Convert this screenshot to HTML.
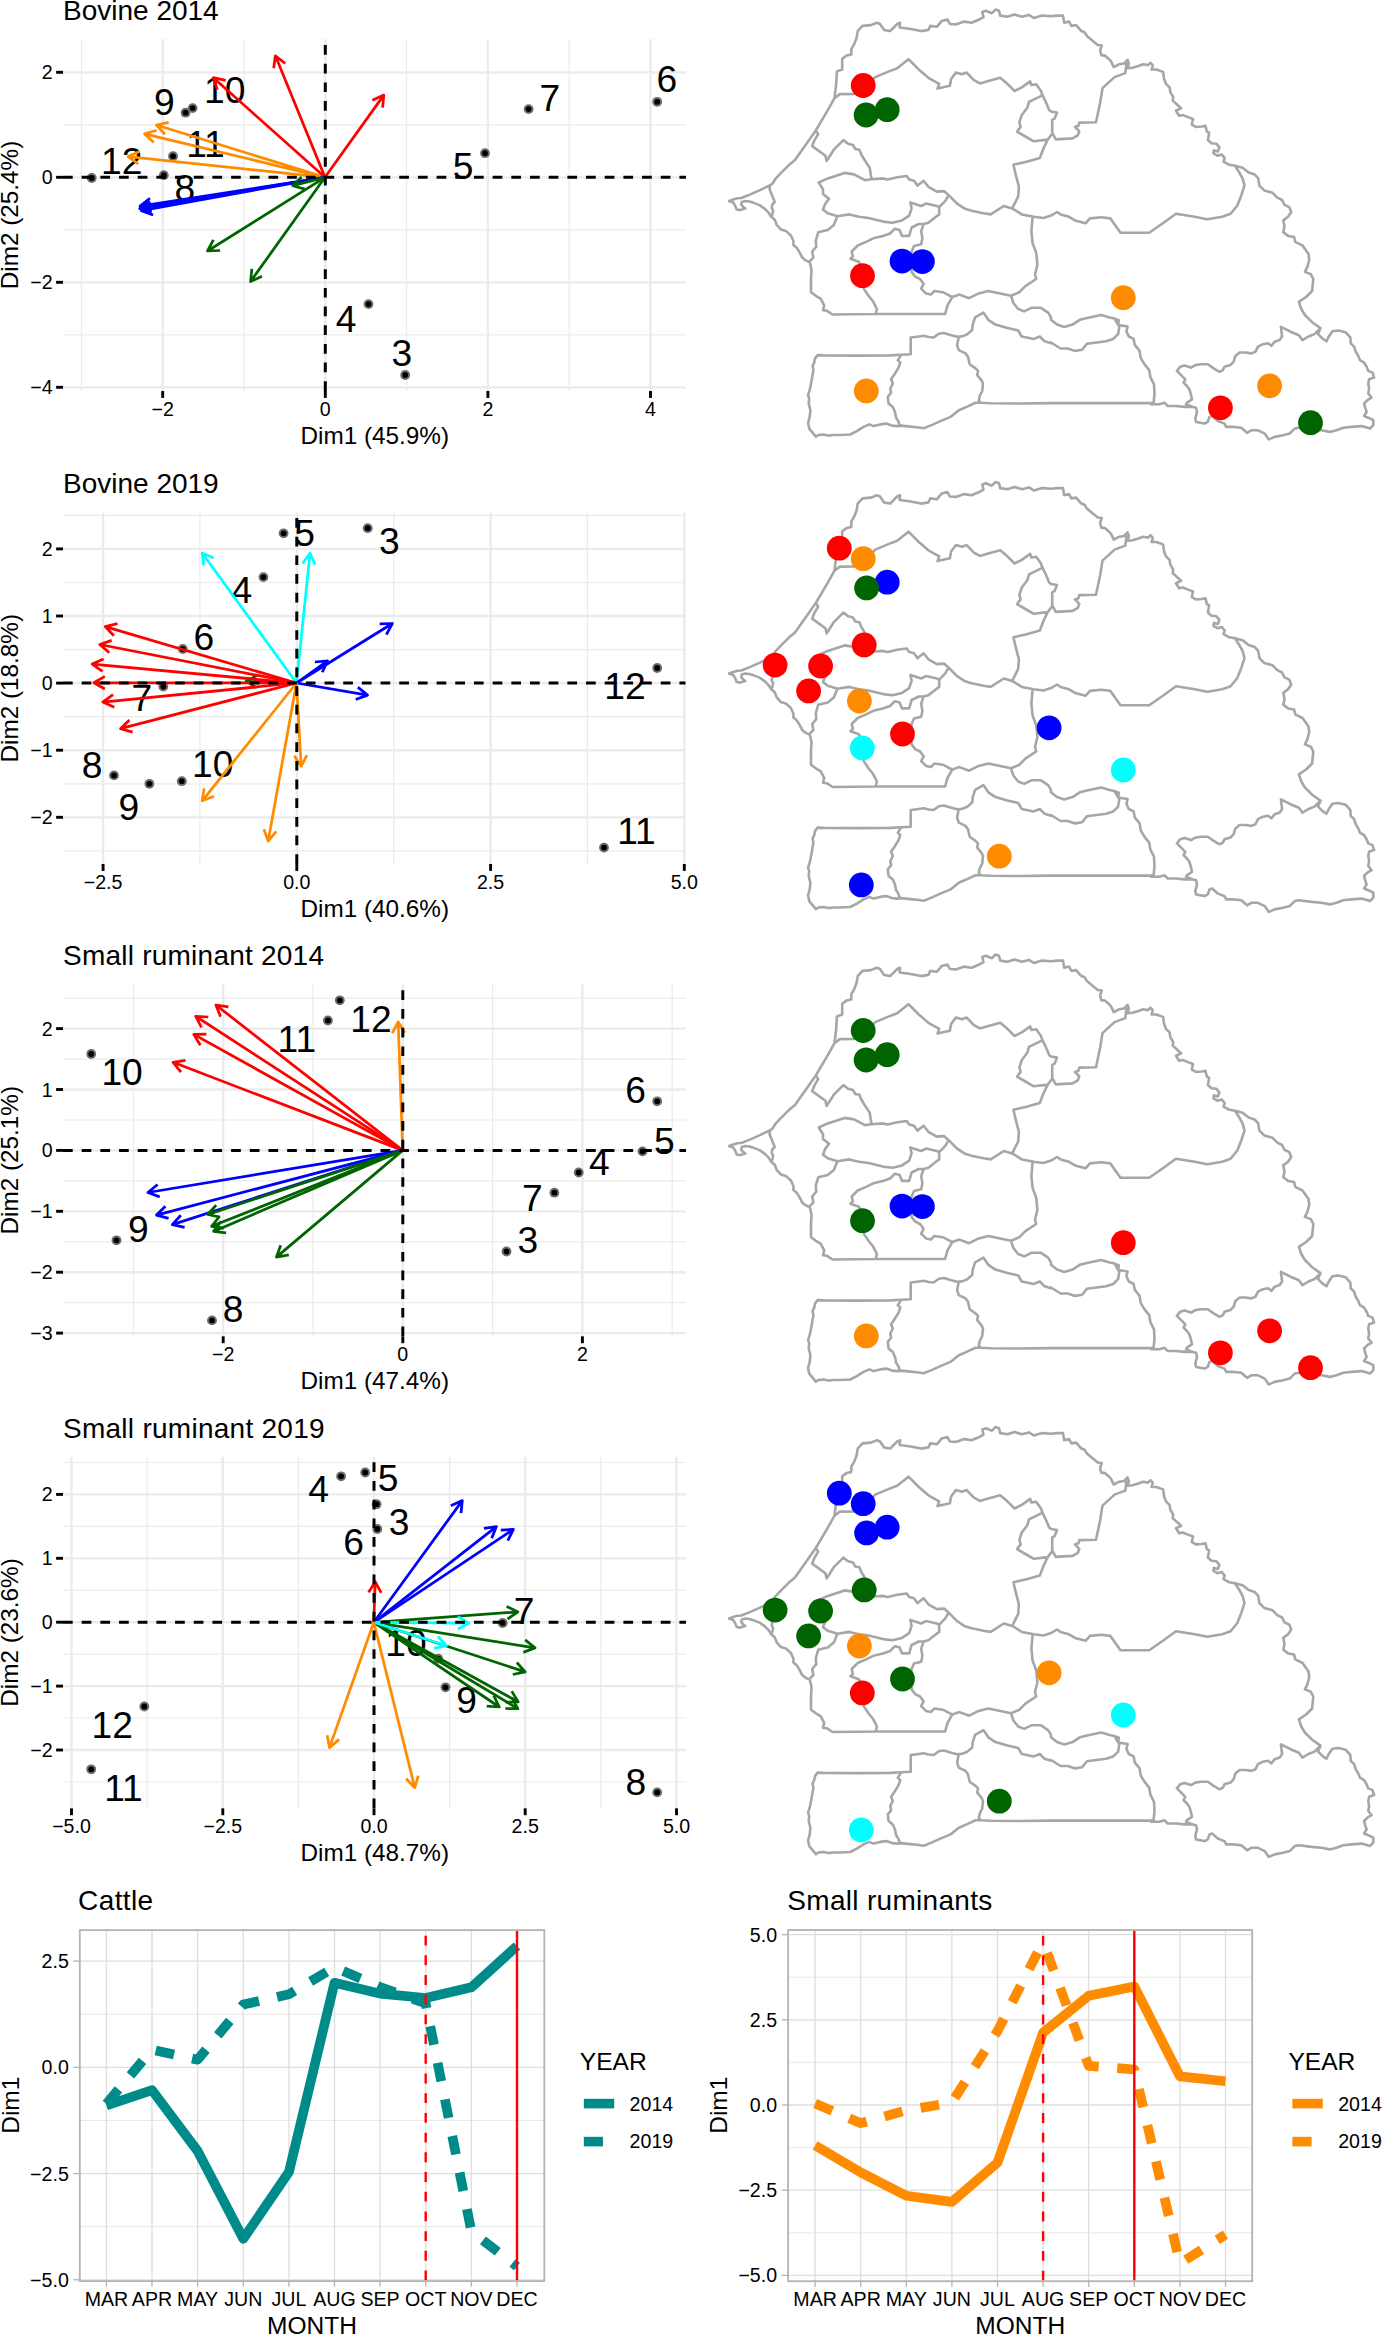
<!DOCTYPE html>
<html lang="en"><head><meta charset="utf-8"><title>PCA biplots, maps and seasonal Dim1</title>
<style>html,body{margin:0;padding:0;background:#fff}svg{display:block}text{font-family:"Liberation Sans", sans-serif;fill:#000}</style>
</head><body>
<svg width="1382" height="2335" viewBox="0 0 1382 2335">
<rect width="1382" height="2335" fill="#fff"/>
<g>
<text x="63.0" y="20.3" font-size="28.0" text-anchor="start">Bovine 2014</text>
<g stroke="#ebebeb"><line x1="81.4" x2="81.4" y1="39.0" y2="391.0" stroke-width="1.18"/><line x1="244.0" x2="244.0" y1="39.0" y2="391.0" stroke-width="1.18"/><line x1="406.6" x2="406.6" y1="39.0" y2="391.0" stroke-width="1.18"/><line x1="569.2" x2="569.2" y1="39.0" y2="391.0" stroke-width="1.18"/><line x1="63.0" x2="686.0" y1="124.8" y2="124.8" stroke-width="1.18"/><line x1="63.0" x2="686.0" y1="229.8" y2="229.8" stroke-width="1.18"/><line x1="63.0" x2="686.0" y1="334.8" y2="334.8" stroke-width="1.18"/><line x1="162.7" x2="162.7" y1="39.0" y2="391.0" stroke-width="2.35"/><line x1="325.3" x2="325.3" y1="39.0" y2="391.0" stroke-width="2.35"/><line x1="487.9" x2="487.9" y1="39.0" y2="391.0" stroke-width="2.35"/><line x1="650.5" x2="650.5" y1="39.0" y2="391.0" stroke-width="2.35"/><line x1="63.0" x2="686.0" y1="72.3" y2="72.3" stroke-width="2.35"/><line x1="63.0" x2="686.0" y1="177.3" y2="177.3" stroke-width="2.35"/><line x1="63.0" x2="686.0" y1="282.3" y2="282.3" stroke-width="2.35"/><line x1="63.0" x2="686.0" y1="387.3" y2="387.3" stroke-width="2.35"/></g>
<g stroke="#000" stroke-width="2.90"><line x1="162.7" x2="162.7" y1="391.0" y2="397.9"/><line x1="325.3" x2="325.3" y1="391.0" y2="397.9"/><line x1="487.9" x2="487.9" y1="391.0" y2="397.9"/><line x1="650.5" x2="650.5" y1="391.0" y2="397.9"/><line x1="56.1" x2="63.0" y1="72.3" y2="72.3"/><line x1="56.1" x2="63.0" y1="177.3" y2="177.3"/><line x1="56.1" x2="63.0" y1="282.3" y2="282.3"/><line x1="56.1" x2="63.0" y1="387.3" y2="387.3"/></g>
<text x="162.7" y="416.0" font-size="19.6" text-anchor="middle">−2</text>
<text x="325.3" y="416.0" font-size="19.6" text-anchor="middle">0</text>
<text x="487.9" y="416.0" font-size="19.6" text-anchor="middle">2</text>
<text x="650.5" y="416.0" font-size="19.6" text-anchor="middle">4</text>
<text x="52.6" y="79.3" font-size="19.6" text-anchor="end">2</text>
<text x="52.6" y="184.3" font-size="19.6" text-anchor="end">0</text>
<text x="52.6" y="289.3" font-size="19.6" text-anchor="end">−2</text>
<text x="52.6" y="394.3" font-size="19.6" text-anchor="end">−4</text>
<text x="374.8" y="443.8" font-size="24.3" text-anchor="middle">Dim1 (45.9%)</text>
<text x="18.3" y="215.0" font-size="24.3" text-anchor="middle" transform="rotate(-90 18.3 215.0)">Dim2 (25.4%)</text>
<g><circle cx="91.7" cy="178.0" r="4.9" fill="#6b6b6b"/><circle cx="91.7" cy="178.0" r="2.9" fill="#000"/><circle cx="163.8" cy="175.2" r="4.9" fill="#6b6b6b"/><circle cx="163.8" cy="175.2" r="2.9" fill="#000"/><circle cx="173.0" cy="156.2" r="4.9" fill="#6b6b6b"/><circle cx="173.0" cy="156.2" r="2.9" fill="#000"/><circle cx="185.6" cy="112.7" r="4.9" fill="#6b6b6b"/><circle cx="185.6" cy="112.7" r="2.9" fill="#000"/><circle cx="192.6" cy="108.1" r="4.9" fill="#6b6b6b"/><circle cx="192.6" cy="108.1" r="2.9" fill="#000"/><circle cx="485.0" cy="153.2" r="4.9" fill="#6b6b6b"/><circle cx="485.0" cy="153.2" r="2.9" fill="#000"/><circle cx="528.6" cy="109.1" r="4.9" fill="#6b6b6b"/><circle cx="528.6" cy="109.1" r="2.9" fill="#000"/><circle cx="657.2" cy="101.8" r="4.9" fill="#6b6b6b"/><circle cx="657.2" cy="101.8" r="2.9" fill="#000"/><circle cx="368.5" cy="304.1" r="4.9" fill="#6b6b6b"/><circle cx="368.5" cy="304.1" r="2.9" fill="#000"/><circle cx="405.2" cy="375.0" r="4.9" fill="#6b6b6b"/><circle cx="405.2" cy="375.0" r="2.9" fill="#000"/></g>
<text x="164.4" y="114.5" font-size="37.2" text-anchor="middle">9</text>
<text x="224.7" y="103.2" font-size="37.2" text-anchor="middle">10</text>
<text x="205.5" y="157.0" font-size="37.2" text-anchor="middle">11</text>
<text x="121.7" y="174.1" font-size="37.2" text-anchor="middle">12</text>
<text x="184.9" y="200.7" font-size="37.2" text-anchor="middle">8</text>
<text x="463.2" y="179.2" font-size="37.2" text-anchor="middle">5</text>
<text x="549.8" y="110.6" font-size="37.2" text-anchor="middle">7</text>
<text x="666.8" y="91.8" font-size="37.2" text-anchor="middle">6</text>
<text x="346.0" y="331.6" font-size="37.2" text-anchor="middle">4</text>
<text x="401.9" y="366.1" font-size="37.2" text-anchor="middle">3</text>
<path d="M325.0,177.3 L156.4,125.0 M165.0,134.3 L156.4,125.0 L168.7,122.3" stroke="#ff8c00" stroke-width="2.75" fill="none" stroke-linejoin="round" stroke-linecap="butt"/>
<path d="M325.0,177.3 L144.6,133.9 M153.7,142.5 L144.6,133.9 L156.6,130.3" stroke="#ff8c00" stroke-width="2.75" fill="none" stroke-linejoin="round" stroke-linecap="butt"/>
<path d="M325.0,177.3 L128.1,156.6 M138.3,164.0 L128.1,156.6 L139.6,151.4" stroke="#ff8c00" stroke-width="2.75" fill="none" stroke-linejoin="round" stroke-linecap="butt"/>
<path d="M325.0,177.3 L275.4,55.8 M273.7,68.3 L275.4,55.8 L285.3,63.5" stroke="#ff0000" stroke-width="2.75" fill="none" stroke-linejoin="round" stroke-linecap="butt"/>
<path d="M325.0,177.3 L213.3,77.7 M217.3,89.7 L213.3,77.7 L225.7,80.3" stroke="#ff0000" stroke-width="2.75" fill="none" stroke-linejoin="round" stroke-linecap="butt"/>
<path d="M325.0,177.3 L383.8,95.1 M372.4,100.3 L383.8,95.1 L382.6,107.7" stroke="#ff0000" stroke-width="2.75" fill="none" stroke-linejoin="round" stroke-linecap="butt"/>
<path d="M325.0,177.3 L140.1,206.1 M151.8,210.6 L140.1,206.1 L149.9,198.2" stroke="#0000ff" stroke-width="2.75" fill="none" stroke-linejoin="round" stroke-linecap="butt"/>
<path d="M325.0,177.3 L139.7,208.5 M151.5,212.9 L139.7,208.5 L149.4,200.4" stroke="#0000ff" stroke-width="2.75" fill="none" stroke-linejoin="round" stroke-linecap="butt"/>
<path d="M325.0,177.3 L141.3,210.7 M153.1,215.0 L141.3,210.7 L150.9,202.6" stroke="#0000ff" stroke-width="2.75" fill="none" stroke-linejoin="round" stroke-linecap="butt"/>
<path d="M325.0,177.3 L292.7,185.7 M304.8,189.1 L292.7,185.7 L301.6,176.9" stroke="#006400" stroke-width="2.75" fill="none" stroke-linejoin="round" stroke-linecap="butt"/>
<path d="M325.0,177.3 L207.5,251.0 M220.1,250.5 L207.5,251.0 L213.4,239.9" stroke="#006400" stroke-width="2.75" fill="none" stroke-linejoin="round" stroke-linecap="butt"/>
<path d="M325.0,177.3 L250.6,281.5 M262.0,276.3 L250.6,281.5 L251.8,268.9" stroke="#006400" stroke-width="2.75" fill="none" stroke-linejoin="round" stroke-linecap="butt"/>
<path d="M63.0,177.3 H686.0 M325.3,391.0 V39.0" stroke="#000" stroke-width="3.00" stroke-dasharray="9.70 8.98" fill="none"/>
</g>
<g>
<text x="63.0" y="493.3" font-size="28.0" text-anchor="start">Bovine 2019</text>
<g stroke="#ebebeb"><line x1="199.9" x2="199.9" y1="512.5" y2="864.0" stroke-width="1.18"/><line x1="393.7" x2="393.7" y1="512.5" y2="864.0" stroke-width="1.18"/><line x1="587.4" x2="587.4" y1="512.5" y2="864.0" stroke-width="1.18"/><line x1="63.0" x2="685.5" y1="515.4" y2="515.4" stroke-width="1.18"/><line x1="63.0" x2="685.5" y1="582.5" y2="582.5" stroke-width="1.18"/><line x1="63.0" x2="685.5" y1="649.6" y2="649.6" stroke-width="1.18"/><line x1="63.0" x2="685.5" y1="716.6" y2="716.6" stroke-width="1.18"/><line x1="63.0" x2="685.5" y1="783.8" y2="783.8" stroke-width="1.18"/><line x1="63.0" x2="685.5" y1="850.9" y2="850.9" stroke-width="1.18"/><line x1="103.1" x2="103.1" y1="512.5" y2="864.0" stroke-width="2.35"/><line x1="296.8" x2="296.8" y1="512.5" y2="864.0" stroke-width="2.35"/><line x1="490.6" x2="490.6" y1="512.5" y2="864.0" stroke-width="2.35"/><line x1="684.3" x2="684.3" y1="512.5" y2="864.0" stroke-width="2.35"/><line x1="63.0" x2="685.5" y1="548.9" y2="548.9" stroke-width="2.35"/><line x1="63.0" x2="685.5" y1="616.0" y2="616.0" stroke-width="2.35"/><line x1="63.0" x2="685.5" y1="683.1" y2="683.1" stroke-width="2.35"/><line x1="63.0" x2="685.5" y1="750.2" y2="750.2" stroke-width="2.35"/><line x1="63.0" x2="685.5" y1="817.3" y2="817.3" stroke-width="2.35"/></g>
<g stroke="#000" stroke-width="2.90"><line x1="103.1" x2="103.1" y1="864.0" y2="870.9"/><line x1="296.8" x2="296.8" y1="864.0" y2="870.9"/><line x1="490.6" x2="490.6" y1="864.0" y2="870.9"/><line x1="684.3" x2="684.3" y1="864.0" y2="870.9"/><line x1="56.1" x2="63.0" y1="548.9" y2="548.9"/><line x1="56.1" x2="63.0" y1="616.0" y2="616.0"/><line x1="56.1" x2="63.0" y1="683.1" y2="683.1"/><line x1="56.1" x2="63.0" y1="750.2" y2="750.2"/><line x1="56.1" x2="63.0" y1="817.3" y2="817.3"/></g>
<text x="103.1" y="889.0" font-size="19.6" text-anchor="middle">−2.5</text>
<text x="296.8" y="889.0" font-size="19.6" text-anchor="middle">0.0</text>
<text x="490.6" y="889.0" font-size="19.6" text-anchor="middle">2.5</text>
<text x="684.3" y="889.0" font-size="19.6" text-anchor="middle">5.0</text>
<text x="52.6" y="555.9" font-size="19.6" text-anchor="end">2</text>
<text x="52.6" y="623.0" font-size="19.6" text-anchor="end">1</text>
<text x="52.6" y="690.1" font-size="19.6" text-anchor="end">0</text>
<text x="52.6" y="757.2" font-size="19.6" text-anchor="end">−1</text>
<text x="52.6" y="824.3" font-size="19.6" text-anchor="end">−2</text>
<text x="374.8" y="916.8" font-size="24.3" text-anchor="middle">Dim1 (40.6%)</text>
<text x="18.3" y="688.2" font-size="24.3" text-anchor="middle" transform="rotate(-90 18.3 688.2)">Dim2 (18.8%)</text>
<g><circle cx="283.6" cy="533.3" r="4.9" fill="#6b6b6b"/><circle cx="283.6" cy="533.3" r="2.9" fill="#000"/><circle cx="263.4" cy="577.1" r="4.9" fill="#6b6b6b"/><circle cx="263.4" cy="577.1" r="2.9" fill="#000"/><circle cx="182.8" cy="649.0" r="4.9" fill="#6b6b6b"/><circle cx="182.8" cy="649.0" r="2.9" fill="#000"/><circle cx="163.3" cy="686.5" r="4.9" fill="#6b6b6b"/><circle cx="163.3" cy="686.5" r="2.9" fill="#000"/><circle cx="367.7" cy="528.2" r="4.9" fill="#6b6b6b"/><circle cx="367.7" cy="528.2" r="2.9" fill="#000"/><circle cx="657.2" cy="668.0" r="4.9" fill="#6b6b6b"/><circle cx="657.2" cy="668.0" r="2.9" fill="#000"/><circle cx="114.0" cy="775.4" r="4.9" fill="#6b6b6b"/><circle cx="114.0" cy="775.4" r="2.9" fill="#000"/><circle cx="149.4" cy="783.8" r="4.9" fill="#6b6b6b"/><circle cx="149.4" cy="783.8" r="2.9" fill="#000"/><circle cx="181.8" cy="781.2" r="4.9" fill="#6b6b6b"/><circle cx="181.8" cy="781.2" r="2.9" fill="#000"/><circle cx="604.0" cy="847.6" r="4.9" fill="#6b6b6b"/><circle cx="604.0" cy="847.6" r="2.9" fill="#000"/></g>
<text x="304.5" y="545.8" font-size="37.2" text-anchor="middle">5</text>
<text x="241.8" y="603.1" font-size="37.2" text-anchor="middle">4</text>
<text x="203.8" y="650.4" font-size="37.2" text-anchor="middle">6</text>
<text x="141.8" y="711.3" font-size="37.2" text-anchor="middle">7</text>
<text x="389.3" y="553.7" font-size="37.2" text-anchor="middle">3</text>
<text x="624.9" y="698.9" font-size="37.2" text-anchor="middle">12</text>
<text x="92.2" y="777.8" font-size="37.2" text-anchor="middle">8</text>
<text x="128.8" y="819.6" font-size="37.2" text-anchor="middle">9</text>
<text x="212.7" y="777.3" font-size="37.2" text-anchor="middle">10</text>
<text x="636.5" y="843.6" font-size="37.2" text-anchor="middle">11</text>
<path d="M296.5,683.0 L202.2,553.0 M203.5,565.5 L202.2,553.0 L213.7,558.1" stroke="#00ffff" stroke-width="2.75" fill="none" stroke-linejoin="round" stroke-linecap="butt"/>
<path d="M296.5,683.0 L310.0,553.3 M302.6,563.5 L310.0,553.3 L315.2,564.8" stroke="#00ffff" stroke-width="2.75" fill="none" stroke-linejoin="round" stroke-linecap="butt"/>
<path d="M296.5,683.0 L246.1,681.2 M256.8,687.8 L246.1,681.2 L257.2,675.3" stroke="#006400" stroke-width="2.75" fill="none" stroke-linejoin="round" stroke-linecap="butt"/>
<path d="M296.5,683.0 L105.2,626.6 M113.9,635.8 L105.2,626.6 L117.5,623.7" stroke="#ff0000" stroke-width="2.75" fill="none" stroke-linejoin="round" stroke-linecap="butt"/>
<path d="M296.5,683.0 L99.8,644.5 M109.3,652.8 L99.8,644.5 L111.7,640.4" stroke="#ff0000" stroke-width="2.75" fill="none" stroke-linejoin="round" stroke-linecap="butt"/>
<path d="M296.5,683.0 L92.2,664.1 M102.5,671.4 L92.2,664.1 L103.6,658.9" stroke="#ff0000" stroke-width="2.75" fill="none" stroke-linejoin="round" stroke-linecap="butt"/>
<path d="M296.5,683.0 L93.9,682.7 M104.8,689.0 L93.9,682.7 L104.8,676.4" stroke="#ff0000" stroke-width="2.75" fill="none" stroke-linejoin="round" stroke-linecap="butt"/>
<path d="M296.5,683.0 L102.8,702.1 M114.3,707.3 L102.8,702.1 L113.0,694.7" stroke="#ff0000" stroke-width="2.75" fill="none" stroke-linejoin="round" stroke-linecap="butt"/>
<path d="M296.5,683.0 L120.5,728.7 M132.6,732.1 L120.5,728.7 L129.4,719.9" stroke="#ff0000" stroke-width="2.75" fill="none" stroke-linejoin="round" stroke-linecap="butt"/>
<path d="M296.5,683.0 L327.5,660.8 M314.9,662.0 L327.5,660.8 L322.3,672.3" stroke="#0000ff" stroke-width="2.75" fill="none" stroke-linejoin="round" stroke-linecap="butt"/>
<path d="M296.5,683.0 L392.3,623.5 M379.7,623.9 L392.3,623.5 L386.4,634.6" stroke="#0000ff" stroke-width="2.75" fill="none" stroke-linejoin="round" stroke-linecap="butt"/>
<path d="M296.5,683.0 L367.5,695.1 M357.8,687.1 L367.5,695.1 L355.7,699.5" stroke="#0000ff" stroke-width="2.75" fill="none" stroke-linejoin="round" stroke-linecap="butt"/>
<path d="M296.5,683.0 L202.2,800.8 M214.0,796.2 L202.2,800.8 L204.1,788.4" stroke="#ff8c00" stroke-width="2.75" fill="none" stroke-linejoin="round" stroke-linecap="butt"/>
<path d="M296.5,683.0 L268.2,841.0 M276.3,831.4 L268.2,841.0 L263.9,829.2" stroke="#ff8c00" stroke-width="2.75" fill="none" stroke-linejoin="round" stroke-linecap="butt"/>
<path d="M296.5,683.0 L301.2,766.3 M306.9,755.1 L301.2,766.3 L294.3,755.8" stroke="#ff8c00" stroke-width="2.75" fill="none" stroke-linejoin="round" stroke-linecap="butt"/>
<path d="M63.0,683.1 H685.5 M296.8,864.0 V512.5" stroke="#000" stroke-width="3.00" stroke-dasharray="9.70 8.98" fill="none"/>
</g>
<g>
<text x="63.0" y="965.3" font-size="28.0" text-anchor="start" textLength="261" lengthAdjust="spacing">Small ruminant 2014</text>
<g stroke="#ebebeb"><line x1="133.4" x2="133.4" y1="984.3" y2="1336.3" stroke-width="1.18"/><line x1="313.0" x2="313.0" y1="984.3" y2="1336.3" stroke-width="1.18"/><line x1="492.6" x2="492.6" y1="984.3" y2="1336.3" stroke-width="1.18"/><line x1="672.2" x2="672.2" y1="984.3" y2="1336.3" stroke-width="1.18"/><line x1="63.0" x2="686.0" y1="998.2" y2="998.2" stroke-width="1.18"/><line x1="63.0" x2="686.0" y1="1059.1" y2="1059.1" stroke-width="1.18"/><line x1="63.0" x2="686.0" y1="1120.0" y2="1120.0" stroke-width="1.18"/><line x1="63.0" x2="686.0" y1="1180.9" y2="1180.9" stroke-width="1.18"/><line x1="63.0" x2="686.0" y1="1241.8" y2="1241.8" stroke-width="1.18"/><line x1="63.0" x2="686.0" y1="1302.7" y2="1302.7" stroke-width="1.18"/><line x1="223.2" x2="223.2" y1="984.3" y2="1336.3" stroke-width="2.35"/><line x1="402.8" x2="402.8" y1="984.3" y2="1336.3" stroke-width="2.35"/><line x1="582.4" x2="582.4" y1="984.3" y2="1336.3" stroke-width="2.35"/><line x1="63.0" x2="686.0" y1="1028.6" y2="1028.6" stroke-width="2.35"/><line x1="63.0" x2="686.0" y1="1089.5" y2="1089.5" stroke-width="2.35"/><line x1="63.0" x2="686.0" y1="1150.4" y2="1150.4" stroke-width="2.35"/><line x1="63.0" x2="686.0" y1="1211.3" y2="1211.3" stroke-width="2.35"/><line x1="63.0" x2="686.0" y1="1272.2" y2="1272.2" stroke-width="2.35"/><line x1="63.0" x2="686.0" y1="1333.1" y2="1333.1" stroke-width="2.35"/></g>
<g stroke="#000" stroke-width="2.90"><line x1="223.2" x2="223.2" y1="1336.3" y2="1343.2"/><line x1="402.8" x2="402.8" y1="1336.3" y2="1343.2"/><line x1="582.4" x2="582.4" y1="1336.3" y2="1343.2"/><line x1="56.1" x2="63.0" y1="1028.6" y2="1028.6"/><line x1="56.1" x2="63.0" y1="1089.5" y2="1089.5"/><line x1="56.1" x2="63.0" y1="1150.4" y2="1150.4"/><line x1="56.1" x2="63.0" y1="1211.3" y2="1211.3"/><line x1="56.1" x2="63.0" y1="1272.2" y2="1272.2"/><line x1="56.1" x2="63.0" y1="1333.1" y2="1333.1"/></g>
<text x="223.2" y="1361.3" font-size="19.6" text-anchor="middle">−2</text>
<text x="402.8" y="1361.3" font-size="19.6" text-anchor="middle">0</text>
<text x="582.4" y="1361.3" font-size="19.6" text-anchor="middle">2</text>
<text x="52.6" y="1035.6" font-size="19.6" text-anchor="end">2</text>
<text x="52.6" y="1096.5" font-size="19.6" text-anchor="end">1</text>
<text x="52.6" y="1157.4" font-size="19.6" text-anchor="end">0</text>
<text x="52.6" y="1218.3" font-size="19.6" text-anchor="end">−1</text>
<text x="52.6" y="1279.2" font-size="19.6" text-anchor="end">−2</text>
<text x="52.6" y="1340.1" font-size="19.6" text-anchor="end">−3</text>
<text x="374.8" y="1389.1" font-size="24.3" text-anchor="middle">Dim1 (47.4%)</text>
<text x="18.3" y="1160.3" font-size="24.3" text-anchor="middle" transform="rotate(-90 18.3 1160.3)">Dim2 (25.1%)</text>
<g><circle cx="91.2" cy="1054.0" r="4.9" fill="#6b6b6b"/><circle cx="91.2" cy="1054.0" r="2.9" fill="#000"/><circle cx="327.9" cy="1020.5" r="4.9" fill="#6b6b6b"/><circle cx="327.9" cy="1020.5" r="2.9" fill="#000"/><circle cx="339.8" cy="1000.3" r="4.9" fill="#6b6b6b"/><circle cx="339.8" cy="1000.3" r="2.9" fill="#000"/><circle cx="657.2" cy="1101.3" r="4.9" fill="#6b6b6b"/><circle cx="657.2" cy="1101.3" r="2.9" fill="#000"/><circle cx="642.5" cy="1151.4" r="4.9" fill="#6b6b6b"/><circle cx="642.5" cy="1151.4" r="2.9" fill="#000"/><circle cx="578.7" cy="1172.5" r="4.9" fill="#6b6b6b"/><circle cx="578.7" cy="1172.5" r="2.9" fill="#000"/><circle cx="554.4" cy="1192.7" r="4.9" fill="#6b6b6b"/><circle cx="554.4" cy="1192.7" r="2.9" fill="#000"/><circle cx="506.5" cy="1251.5" r="4.9" fill="#6b6b6b"/><circle cx="506.5" cy="1251.5" r="2.9" fill="#000"/><circle cx="116.5" cy="1240.3" r="4.9" fill="#6b6b6b"/><circle cx="116.5" cy="1240.3" r="2.9" fill="#000"/><circle cx="212.0" cy="1320.4" r="4.9" fill="#6b6b6b"/><circle cx="212.0" cy="1320.4" r="2.9" fill="#000"/></g>
<text x="122.1" y="1085.2" font-size="37.2" text-anchor="middle">10</text>
<text x="296.9" y="1052.1" font-size="37.2" text-anchor="middle">11</text>
<text x="370.9" y="1032.3" font-size="37.2" text-anchor="middle">12</text>
<text x="635.5" y="1103.0" font-size="37.2" text-anchor="middle">6</text>
<text x="664.4" y="1153.6" font-size="37.2" text-anchor="middle">5</text>
<text x="599.4" y="1175.0" font-size="37.2" text-anchor="middle">4</text>
<text x="532.3" y="1211.3" font-size="37.2" text-anchor="middle">7</text>
<text x="527.9" y="1253.1" font-size="37.2" text-anchor="middle">3</text>
<text x="138.4" y="1241.7" font-size="37.2" text-anchor="middle">9</text>
<text x="233.2" y="1321.6" font-size="37.2" text-anchor="middle">8</text>
<path d="M402.7,1150.4 L215.9,1005.0 M220.6,1016.7 L215.9,1005.0 L228.4,1006.8" stroke="#ff0000" stroke-width="2.75" fill="none" stroke-linejoin="round" stroke-linecap="butt"/>
<path d="M402.7,1150.4 L195.8,1016.3 M201.5,1027.5 L195.8,1016.3 L208.3,1017.0" stroke="#ff0000" stroke-width="2.75" fill="none" stroke-linejoin="round" stroke-linecap="butt"/>
<path d="M402.7,1150.4 L193.8,1034.4 M200.3,1045.2 L193.8,1034.4 L206.4,1034.2" stroke="#ff0000" stroke-width="2.75" fill="none" stroke-linejoin="round" stroke-linecap="butt"/>
<path d="M402.7,1150.4 L173.1,1062.3 M181.0,1072.1 L173.1,1062.3 L185.5,1060.4" stroke="#ff0000" stroke-width="2.75" fill="none" stroke-linejoin="round" stroke-linecap="butt"/>
<path d="M402.7,1150.4 L398.2,1022.0 M392.2,1033.1 L398.2,1022.0 L404.8,1032.7" stroke="#ff8c00" stroke-width="2.75" fill="none" stroke-linejoin="round" stroke-linecap="butt"/>
<path d="M402.7,1150.4 L147.9,1192.5 M159.7,1196.9 L147.9,1192.5 L157.6,1184.5" stroke="#0000ff" stroke-width="2.75" fill="none" stroke-linejoin="round" stroke-linecap="butt"/>
<path d="M402.7,1150.4 L156.5,1215.1 M168.6,1218.4 L156.5,1215.1 L165.4,1206.3" stroke="#0000ff" stroke-width="2.75" fill="none" stroke-linejoin="round" stroke-linecap="butt"/>
<path d="M402.7,1150.4 L172.3,1224.6 M184.6,1227.3 L172.3,1224.6 L180.8,1215.3" stroke="#0000ff" stroke-width="2.75" fill="none" stroke-linejoin="round" stroke-linecap="butt"/>
<path d="M402.7,1150.4 L207.8,1214.5 M220.2,1217.1 L207.8,1214.5 L216.2,1205.1" stroke="#006400" stroke-width="2.75" fill="none" stroke-linejoin="round" stroke-linecap="butt"/>
<path d="M402.7,1150.4 L211.6,1226.3 M224.1,1228.2 L211.6,1226.3 L219.4,1216.5" stroke="#006400" stroke-width="2.75" fill="none" stroke-linejoin="round" stroke-linecap="butt"/>
<path d="M402.7,1150.4 L213.6,1231.4 M226.1,1232.9 L213.6,1231.4 L221.1,1221.3" stroke="#006400" stroke-width="2.75" fill="none" stroke-linejoin="round" stroke-linecap="butt"/>
<path d="M402.7,1150.4 L276.4,1257.1 M288.8,1254.9 L276.4,1257.1 L280.7,1245.3" stroke="#006400" stroke-width="2.75" fill="none" stroke-linejoin="round" stroke-linecap="butt"/>
<path d="M63.0,1150.4 H686.0 M402.8,1336.3 V984.3" stroke="#000" stroke-width="3.00" stroke-dasharray="9.70 8.98" fill="none"/>
</g>
<g>
<text x="63.0" y="1437.9" font-size="28.0" text-anchor="start" textLength="261.6" lengthAdjust="spacing">Small ruminant 2019</text>
<g stroke="#ebebeb"><line x1="147.1" x2="147.1" y1="1456.8" y2="1808.3" stroke-width="1.18"/><line x1="298.4" x2="298.4" y1="1456.8" y2="1808.3" stroke-width="1.18"/><line x1="449.6" x2="449.6" y1="1456.8" y2="1808.3" stroke-width="1.18"/><line x1="600.9" x2="600.9" y1="1456.8" y2="1808.3" stroke-width="1.18"/><line x1="63.0" x2="686.0" y1="1462.5" y2="1462.5" stroke-width="1.18"/><line x1="63.0" x2="686.0" y1="1526.4" y2="1526.4" stroke-width="1.18"/><line x1="63.0" x2="686.0" y1="1590.2" y2="1590.2" stroke-width="1.18"/><line x1="63.0" x2="686.0" y1="1654.2" y2="1654.2" stroke-width="1.18"/><line x1="63.0" x2="686.0" y1="1718.0" y2="1718.0" stroke-width="1.18"/><line x1="63.0" x2="686.0" y1="1782.0" y2="1782.0" stroke-width="1.18"/><line x1="71.5" x2="71.5" y1="1456.8" y2="1808.3" stroke-width="2.35"/><line x1="222.8" x2="222.8" y1="1456.8" y2="1808.3" stroke-width="2.35"/><line x1="374.0" x2="374.0" y1="1456.8" y2="1808.3" stroke-width="2.35"/><line x1="525.2" x2="525.2" y1="1456.8" y2="1808.3" stroke-width="2.35"/><line x1="676.5" x2="676.5" y1="1456.8" y2="1808.3" stroke-width="2.35"/><line x1="63.0" x2="686.0" y1="1494.4" y2="1494.4" stroke-width="2.35"/><line x1="63.0" x2="686.0" y1="1558.3" y2="1558.3" stroke-width="2.35"/><line x1="63.0" x2="686.0" y1="1622.2" y2="1622.2" stroke-width="2.35"/><line x1="63.0" x2="686.0" y1="1686.1" y2="1686.1" stroke-width="2.35"/><line x1="63.0" x2="686.0" y1="1750.0" y2="1750.0" stroke-width="2.35"/></g>
<g stroke="#000" stroke-width="2.90"><line x1="71.5" x2="71.5" y1="1808.3" y2="1815.2"/><line x1="222.8" x2="222.8" y1="1808.3" y2="1815.2"/><line x1="374.0" x2="374.0" y1="1808.3" y2="1815.2"/><line x1="525.2" x2="525.2" y1="1808.3" y2="1815.2"/><line x1="676.5" x2="676.5" y1="1808.3" y2="1815.2"/><line x1="56.1" x2="63.0" y1="1494.4" y2="1494.4"/><line x1="56.1" x2="63.0" y1="1558.3" y2="1558.3"/><line x1="56.1" x2="63.0" y1="1622.2" y2="1622.2"/><line x1="56.1" x2="63.0" y1="1686.1" y2="1686.1"/><line x1="56.1" x2="63.0" y1="1750.0" y2="1750.0"/></g>
<text x="71.5" y="1833.3" font-size="19.6" text-anchor="middle">−5.0</text>
<text x="222.8" y="1833.3" font-size="19.6" text-anchor="middle">−2.5</text>
<text x="374.0" y="1833.3" font-size="19.6" text-anchor="middle">0.0</text>
<text x="525.2" y="1833.3" font-size="19.6" text-anchor="middle">2.5</text>
<text x="676.5" y="1833.3" font-size="19.6" text-anchor="middle">5.0</text>
<text x="52.6" y="1501.4" font-size="19.6" text-anchor="end">2</text>
<text x="52.6" y="1565.3" font-size="19.6" text-anchor="end">1</text>
<text x="52.6" y="1629.2" font-size="19.6" text-anchor="end">0</text>
<text x="52.6" y="1693.1" font-size="19.6" text-anchor="end">−1</text>
<text x="52.6" y="1757.0" font-size="19.6" text-anchor="end">−2</text>
<text x="374.8" y="1861.1" font-size="24.3" text-anchor="middle">Dim1 (48.7%)</text>
<text x="18.3" y="1632.5" font-size="24.3" text-anchor="middle" transform="rotate(-90 18.3 1632.5)">Dim2 (23.6%)</text>
<g><circle cx="341.1" cy="1476.3" r="4.9" fill="#6b6b6b"/><circle cx="341.1" cy="1476.3" r="2.9" fill="#000"/><circle cx="365.2" cy="1472.5" r="4.9" fill="#6b6b6b"/><circle cx="365.2" cy="1472.5" r="2.9" fill="#000"/><circle cx="376.6" cy="1504.2" r="4.9" fill="#6b6b6b"/><circle cx="376.6" cy="1504.2" r="2.9" fill="#000"/><circle cx="377.3" cy="1529.0" r="4.9" fill="#6b6b6b"/><circle cx="377.3" cy="1529.0" r="2.9" fill="#000"/><circle cx="502.7" cy="1623.0" r="4.9" fill="#6b6b6b"/><circle cx="502.7" cy="1623.0" r="2.9" fill="#000"/><circle cx="438.2" cy="1658.7" r="4.9" fill="#6b6b6b"/><circle cx="438.2" cy="1658.7" r="2.9" fill="#000"/><circle cx="445.5" cy="1687.3" r="4.9" fill="#6b6b6b"/><circle cx="445.5" cy="1687.3" r="2.9" fill="#000"/><circle cx="657.2" cy="1792.4" r="4.9" fill="#6b6b6b"/><circle cx="657.2" cy="1792.4" r="2.9" fill="#000"/><circle cx="144.3" cy="1706.5" r="4.9" fill="#6b6b6b"/><circle cx="144.3" cy="1706.5" r="2.9" fill="#000"/><circle cx="91.2" cy="1769.3" r="4.9" fill="#6b6b6b"/><circle cx="91.2" cy="1769.3" r="2.9" fill="#000"/></g>
<text x="318.7" y="1502.1" font-size="37.2" text-anchor="middle">4</text>
<text x="388.0" y="1491.4" font-size="37.2" text-anchor="middle">5</text>
<text x="399.1" y="1534.5" font-size="37.2" text-anchor="middle">3</text>
<text x="353.5" y="1555.2" font-size="37.2" text-anchor="middle">6</text>
<text x="524.0" y="1623.8" font-size="37.2" text-anchor="middle">7</text>
<text x="405.9" y="1656.3" font-size="37.2" text-anchor="middle">10</text>
<text x="466.7" y="1713.0" font-size="37.2" text-anchor="middle">9</text>
<text x="635.8" y="1794.7" font-size="37.2" text-anchor="middle">8</text>
<text x="112.2" y="1738.3" font-size="37.2" text-anchor="middle">12</text>
<text x="123.5" y="1800.9" font-size="37.2" text-anchor="middle">11</text>
<path d="M373.8,1622.3 L462.3,1500.6 M450.8,1505.7 L462.3,1500.6 L461.0,1513.1" stroke="#0000ff" stroke-width="2.75" fill="none" stroke-linejoin="round" stroke-linecap="butt"/>
<path d="M373.8,1622.3 L496.4,1526.6 M483.9,1528.4 L496.4,1526.6 L491.7,1538.3" stroke="#0000ff" stroke-width="2.75" fill="none" stroke-linejoin="round" stroke-linecap="butt"/>
<path d="M373.8,1622.3 L513.4,1529.3 M500.8,1530.1 L513.4,1529.3 L507.8,1540.6" stroke="#0000ff" stroke-width="2.75" fill="none" stroke-linejoin="round" stroke-linecap="butt"/>
<path d="M373.8,1622.3 L375.2,1581.7 M368.6,1592.4 L375.2,1581.7 L381.2,1592.8" stroke="#ff0000" stroke-width="2.75" fill="none" stroke-linejoin="round" stroke-linecap="butt"/>
<path d="M373.8,1622.3 L517.9,1611.9 M506.6,1606.4 L517.9,1611.9 L507.5,1619.0" stroke="#006400" stroke-width="2.75" fill="none" stroke-linejoin="round" stroke-linecap="butt"/>
<path d="M373.8,1622.3 L535.0,1647.9 M525.2,1639.9 L535.0,1647.9 L523.3,1652.4" stroke="#006400" stroke-width="2.75" fill="none" stroke-linejoin="round" stroke-linecap="butt"/>
<path d="M373.8,1622.3 L525.2,1671.9 M516.8,1662.5 L525.2,1671.9 L512.8,1674.5" stroke="#006400" stroke-width="2.75" fill="none" stroke-linejoin="round" stroke-linecap="butt"/>
<path d="M373.8,1622.3 L518.2,1701.9 M511.7,1691.1 L518.2,1701.9 L505.6,1702.1" stroke="#006400" stroke-width="2.75" fill="none" stroke-linejoin="round" stroke-linecap="butt"/>
<path d="M373.8,1622.3 L517.9,1708.7 M511.8,1697.7 L517.9,1708.7 L505.3,1708.5" stroke="#006400" stroke-width="2.75" fill="none" stroke-linejoin="round" stroke-linecap="butt"/>
<path d="M373.8,1622.3 L499.3,1707.0 M493.7,1695.6 L499.3,1707.0 L486.7,1706.1" stroke="#006400" stroke-width="2.75" fill="none" stroke-linejoin="round" stroke-linecap="butt"/>
<path d="M373.8,1622.3 L468.8,1623.0 M457.9,1616.6 L468.8,1623.0 L457.8,1629.2" stroke="#00ffff" stroke-width="2.75" fill="none" stroke-linejoin="round" stroke-linecap="butt"/>
<path d="M373.8,1622.3 L446.4,1645.7 M437.9,1636.4 L446.4,1645.7 L434.1,1648.4" stroke="#00ffff" stroke-width="2.75" fill="none" stroke-linejoin="round" stroke-linecap="butt"/>
<path d="M373.8,1622.3 L329.5,1747.6 M339.1,1739.4 L329.5,1747.6 L327.2,1735.2" stroke="#ff8c00" stroke-width="2.75" fill="none" stroke-linejoin="round" stroke-linecap="butt"/>
<path d="M373.8,1622.3 L414.8,1787.7 M418.3,1775.6 L414.8,1787.7 L406.1,1778.7" stroke="#ff8c00" stroke-width="2.75" fill="none" stroke-linejoin="round" stroke-linecap="butt"/>
<path d="M63.0,1622.2 H686.0 M374.0,1808.3 V1456.8" stroke="#000" stroke-width="3.00" stroke-dasharray="9.70 8.98" fill="none"/>
</g>
<path d="M729.1,201.0 L733.2,199.5 L737.2,198.3 L741.3,198.0 L750.4,194.4 L760.5,189.9 L770.7,184.8 L772.7,183.3 L775.2,179.2 L780.8,173.2 L788.9,165.1 L795.0,160.0 L815.8,130.5 L827.8,110.2 L834.5,98.2 L836.2,83.8 L836.9,71.4 L842.2,69.5 L842.2,58.7 L846.5,55.6 L851.3,54.6 L851.3,49.1 L854.1,44.3 L856.5,38.3 L857.7,31.1 L862.5,25.9 L870.9,25.1 L876.9,22.8 L880.0,24.0 L884.1,29.9 L890.1,31.1 L897.2,24.0 L900.1,22.8 L899.6,27.5 L909.2,28.7 L921.2,31.1 L928.4,29.9 L930.3,25.9 L936.8,26.8 L941.6,21.1 L947.5,19.6 L949.9,24.0 L955.9,24.4 L964.3,21.6 L971.5,22.8 L979.9,19.2 L983.5,17.2 L982.3,12.0 L985.9,10.8 L991.9,13.2 L995.4,9.6 L999.0,10.8 L1000.2,15.6 L1007.4,16.8 L1014.6,14.4 L1021.8,16.8 L1029.0,14.9 L1033.8,18.0 L1042.2,15.6 L1051.0,16.3 L1057.0,15.6 L1063.0,15.6 L1064.2,22.8 L1069.0,21.6 L1071.4,25.9 L1076.1,25.1 L1080.9,30.7 L1084.5,32.3 L1086.9,35.9 L1094.1,41.9 L1097.7,45.0 L1101.8,45.5 L1100.1,50.3 L1101.3,55.1 L1104.9,55.6 L1108.5,58.7 L1110.9,61.1 L1113.8,67.1 L1119.3,64.2 L1124.1,63.5 L1127.6,59.9 L1128.8,63.5 L1127.6,68.3 L1132.4,67.8 L1138.4,65.9 L1143.2,64.2 L1148.0,65.1 L1150.4,62.8 L1152.8,65.1 L1151.6,69.5 L1156.4,69.5 L1163.1,71.9 L1164.1,79.0 L1166.0,83.8 L1169.6,87.4 L1170.3,92.2 L1173.2,97.0 L1172.7,100.6 L1176.7,104.2 L1181.1,108.3 L1176.0,110.7 L1179.1,115.7 L1182.7,115.0 L1188.7,117.4 L1193.0,119.0 L1191.8,124.6 L1195.9,126.9 L1201.9,126.5 L1205.5,125.7 L1206.7,131.3 L1209.1,132.9 L1207.9,140.1 L1211.5,143.2 L1216.3,143.7 L1219.4,147.3 L1217.9,151.4 L1213.9,150.4 L1213.4,153.3 L1217.5,155.7 L1221.8,154.5 L1224.7,158.1 L1223.5,161.7 L1229.4,164.8 L1235.0,165.7 L1242.6,167.7 L1248.6,172.5 L1254.6,174.4 L1258.2,178.4 L1259.4,185.6 L1264.2,190.4 L1272.6,192.8 L1277.3,197.6 L1282.1,200.0 L1284.5,204.8 L1289.3,207.2 L1291.2,212.0 L1288.1,216.8 L1283.3,220.4 L1284.5,226.3 L1283.3,232.3 L1288.1,235.9 L1294.1,237.1 L1295.3,241.9 L1302.5,245.5 L1308.5,253.9 L1309.2,259.9 L1307.3,267.1 L1304.9,271.9 L1310.9,274.3 L1313.3,279.0 L1312.1,291.0 L1306.1,297.0 L1298.9,301.8 L1301.3,309.0 L1304.9,315.0 L1312.1,322.2 L1320.5,328.1 L1318.1,334.1 L1322.9,338.9 L1326.4,341.3 L1328.8,336.5 L1332.4,331.3 L1338.4,330.5 L1345.6,332.2 L1350.4,337.7 L1350.7,343.3 L1354.1,346.7 L1355.7,351.7 L1358.3,355.9 L1359.9,360.1 L1364.1,362.6 L1366.6,366.7 L1368.3,370.9 L1372.5,372.6 L1374.1,377.6 L1369.1,379.3 L1368.3,383.5 L1369.1,388.5 L1368.3,393.5 L1371.6,397.7 L1367.4,400.2 L1364.1,403.5 L1364.9,406.9 L1366.6,411.9 L1364.1,416.0 L1368.3,417.7 L1373.3,420.2 L1373.3,425.2 L1370.0,428.6 L1361.6,426.1 L1351.6,426.9 L1343.2,427.7 L1336.5,430.3 L1329.8,431.9 L1321.5,430.3 L1311.5,429.4 L1298.9,427.7 L1294.7,428.6 L1289.7,433.6 L1283.0,435.3 L1274.7,436.9 L1268.8,439.4 L1264.7,433.6 L1258.0,430.3 L1251.3,430.3 L1247.1,432.8 L1241.3,427.7 L1232.9,426.9 L1226.2,426.9 L1224.5,423.6 L1217.9,421.1 L1212.0,416.0 L1209.5,416.9 L1207.8,421.9 L1204.5,423.6 L1196.1,421.9 L1195.3,418.6 L1197.0,411.9 L1196.1,407.7 L1192.8,406.9 L1184.4,406.9 L1176.1,406.0 L1167.7,406.0 L1164.4,402.7 L1159.4,404.3 L1151.0,404.3 L1153.5,403.1 L1098.9,403.1 L1051.0,403.1 L1021.0,403.5 L990.6,403.2 L980.5,402.7 L975.5,402.7 L967.2,406.6 L958.8,410.2 L950.5,416.9 L940.4,421.1 L932.1,424.9 L923.7,428.3 L917.0,427.3 L910.3,426.6 L901.1,425.6 L897.0,426.1 L892.0,425.6 L886.1,423.6 L880.3,424.4 L873.6,426.1 L869.4,424.4 L863.5,426.9 L856.9,431.1 L850.2,434.5 L840.1,435.0 L833.5,435.0 L828.4,435.6 L823.4,434.5 L818.4,435.0 L815.9,436.6 L813.4,433.6 L809.2,428.6 L808.1,422.8 L809.7,416.9 L810.4,410.2 L808.7,403.5 L809.2,398.5 L808.1,395.2 L809.7,390.2 L811.7,380.1 L813.4,370.1 L812.6,365.9 L814.2,362.6 L815.1,358.4 L817.6,355.1 L823.4,355.4 L856.9,355.6 L890.3,355.4 L901.1,354.7 L910.7,354.2 L910.7,337.5 L917.0,336.7 L923.7,335.8 L928.7,337.0 L933.7,337.5 L938.8,333.7 L943.8,333.0 L950.5,335.0 L957.1,336.7 L962.2,336.4 L967.2,334.2 L972.2,330.0 L972.7,324.6 L975.1,317.4 L983.5,312.6 L988.3,319.8 L995.4,324.6 L1007.4,328.1 L1018.2,330.5 L1021.8,336.5 L1033.8,338.9 L1039.8,336.5 L1044.6,341.3 L1051.0,343.2 L1051.0,342.5 L1060.6,348.5 L1067.8,348.5 L1075.0,350.9 L1082.1,349.7 L1086.9,343.7 L1096.5,342.5 L1106.1,341.3 L1113.3,338.9 L1118.1,334.1 L1119.3,326.9 L1114.5,318.6 L1109.7,317.4 L1101.3,315.0 L1089.3,317.4 L1079.7,319.8 L1072.6,324.6 L1064.2,326.9 L1057.0,324.6 L1051.0,319.8 L1051.0,317.4 L1048.1,312.6 L1041.0,307.8 L1031.4,307.8 L1024.2,311.4 L1018.2,309.0 L1013.4,303.0 L1011.0,295.8 L997.8,292.9 L988.3,291.0 L978.7,293.4 L969.1,298.2 L959.5,294.6 L952.3,297.0 L947.5,305.4 L945.1,314.0 L875.7,314.0 L832.6,314.5 L826.6,310.7 L823.0,310.2 L824.2,305.4 L820.6,298.7 L815.8,295.8 L811.0,292.2 L811.0,279.0 L811.5,269.5 L809.8,262.3 L805.0,259.9 L805.1,260.0 L802.1,257.3 L800.0,253.2 L797.0,248.1 L793.4,245.1 L793.4,241.0 L790.9,235.5 L785.8,230.9 L780.8,229.4 L776.7,224.8 L774.7,219.8 L770.7,216.2 L768.6,212.7 L764.6,208.6 L759.5,205.1 L754.4,203.1 L749.4,201.5 L745.3,201.0 L741.8,202.0 L741.3,204.6 L743.3,207.1 L745.3,208.6 L741.8,209.6 L739.2,210.1 L736.7,209.6 L735.2,205.6 L733.2,202.5 L729.1,201.0Z M834.5,98.2 L839.8,94.1 L854.1,93.9 L864.9,88.6 L875.2,77.1 L887.7,71.9 L897.2,68.3 L908.5,59.2 L918.8,69.5 L928.4,77.8 L939.2,83.8 L937.5,88.6 L949.9,85.7 L951.1,79.0 L955.9,72.6 L961.9,74.3 L966.7,72.6 L973.9,80.2 L979.9,83.4 L988.3,81.0 L1000.2,77.8 L1007.4,83.8 L1014.6,91.0 L1021.8,87.4 L1030.2,81.4 L1031.4,85.0 L1036.2,84.3 L1041.0,91.0 L1042.2,94.6 L1045.7,101.8 L1049.3,110.2 L1051.0,111.4 L1057.0,112.6 L1054.6,118.6 L1052.2,119.8 L1052.2,132.9 L1055.8,139.4 L1072.6,138.4 L1077.8,135.3 L1079.3,131.3 L1075.0,126.9 L1078.5,125.7 L1079.3,122.6 L1096.0,122.2 L1100.1,103.0 L1102.5,88.1 L1114.5,77.1 L1125.3,73.1 L1126.4,64.2 M1042.2,95.3 L1029.0,101.8 L1027.3,107.8 L1021.8,115.0 L1019.4,122.2 L1020.6,126.9 L1017.0,131.7 L1025.4,136.5 L1033.8,141.3 L1047.7,139.6 L1052.2,133.7 M1047.7,139.6 L1043.4,148.5 L1039.8,158.1 L1026.6,161.7 L1013.4,164.8 L1015.8,174.9 L1018.9,186.8 L1018.2,196.4 L1014.6,203.6 L1012.2,208.4 M815.8,130.5 L818.2,134.1 L814.6,140.1 L812.2,146.1 L825.4,155.7 L826.6,161.0 L833.8,149.7 L843.4,140.1 L848.1,143.7 L852.9,144.9 L855.3,149.0 L859.4,149.7 L861.3,154.5 L864.9,160.5 L869.7,167.7 L871.4,178.4 M818.7,182.5 L827.8,178.4 L844.6,172.9 L854.1,174.4 L864.9,180.1 L871.4,179.2 L882.9,178.4 L887.7,179.6 L897.2,177.2 L906.8,176.0 L909.2,179.6 L914.0,180.8 L917.6,185.6 L923.6,180.8 L928.4,186.8 L936.8,191.6 L944.0,191.1 L948.7,195.2 L945.1,201.2 L939.2,207.2 L936.8,206.0 L926.0,203.6 L921.2,206.0 L910.4,202.4 L911.6,208.4 L909.2,215.6 L902.0,220.4 L892.5,222.8 L882.9,221.6 L868.5,218.0 L858.9,216.8 L849.3,214.4 L837.4,216.3 L827.8,213.2 L823.0,209.6 L825.4,203.6 L829.0,198.8 L823.0,194.0 L823.0,189.2 L818.7,182.5 M948.7,195.2 L957.1,203.6 L964.3,208.4 L971.5,210.8 L983.5,213.2 L990.7,214.4 L1003.8,206.0 L1012.2,208.4 L1021.8,214.4 L1033.8,216.8 L1043.4,218.0 L1051.0,215.6 L1057.0,212.0 L1060.6,214.4 L1069.0,216.8 L1075.0,220.4 L1085.7,223.2 L1090.0,218.4 L1101.3,217.2 L1110.4,218.4 L1120.5,232.8 L1149.2,232.8 L1163.6,222.8 L1176.0,213.7 L1194.7,216.8 L1207.2,219.2 L1222.3,216.8 L1230.6,213.7 L1237.3,205.5 L1241.4,195.2 L1244.5,185.6 L1242.6,178.4 L1239.0,172.0 L1235.0,165.7 M1032.6,216.8 L1031.4,231.1 L1032.6,243.1 L1036.2,252.7 L1037.4,264.7 L1035.0,274.3 L1036.2,279.0 L1025.4,286.2 L1019.4,292.2 L1011.0,295.8 M770.1,185.3 L769.6,189.4 L771.7,194.4 L773.7,199.5 L774.7,202.0 L772.2,204.6 L771.7,208.1 L773.2,210.7 L772.2,214.7 L771.2,216.2 M837.4,216.3 L833.8,225.1 L827.8,229.9 L818.2,232.3 L815.8,240.7 L816.3,246.7 L812.2,251.5 L813.4,257.5 L809.8,261.1 M939.2,207.2 L939.2,214.4 L934.4,218.0 L928.4,222.8 L923.6,224.0 L921.2,231.1 L922.4,238.3 L921.2,244.3 L914.0,246.0 L911.6,251.5 L911.1,262.3 L911.6,271.9 L915.2,276.6 L920.0,279.0 L923.6,283.8 L921.2,288.6 L926.0,293.4 L930.8,294.6 L934.4,291.0 L942.8,292.2 L949.9,295.8 L952.3,297.0 M923.6,224.0 L918.8,224.0 L911.6,227.5 L909.2,235.9 L902.0,235.9 L899.6,229.9 L894.9,228.7 L890.1,233.5 L882.9,235.9 L873.3,238.3 L866.1,241.9 L857.7,245.5 L851.7,251.5 L852.9,256.3 L850.5,258.7 L858.9,261.8 L863.7,271.9 L863.7,288.6 L868.5,295.8 L873.3,301.8 L876.9,309.0 L875.7,314.0 M1114.5,318.6 L1118.8,320.2 L1118.1,325.0 L1122.9,325.7 L1127.6,326.5 L1126.4,331.3 L1128.8,336.5 L1133.6,338.9 L1134.8,344.9 L1139.6,350.9 L1140.8,358.1 L1144.4,364.1 L1149.2,370.1 L1150.4,377.2 L1154.0,384.4 L1154.5,394.0 L1153.5,403.1 M901.1,355.1 L897.8,360.1 L900.3,362.6 L898.6,367.6 L894.5,374.3 L891.1,379.3 L892.8,383.5 L890.3,388.5 L891.1,392.7 L887.8,396.9 L888.6,403.5 L892.8,406.9 L895.0,411.9 L896.1,417.7 L898.6,421.6 L899.5,425.6 M958.8,336.7 L957.1,345.0 L958.8,350.1 L965.5,353.4 L968.0,356.7 L969.7,364.3 L975.5,368.4 L978.0,370.9 L977.2,375.1 L981.4,380.1 L983.0,383.5 L982.2,391.0 L979.7,396.0 L978.9,400.2 L980.5,402.7 M1320.5,328.1 L1314.5,334.1 L1308.5,336.5 L1302.5,340.1 L1298.9,335.3 L1290.5,331.7 L1280.9,326.9 L1282.1,336.5 L1279.7,340.0 L1274.7,341.7 L1271.3,345.8 L1268.0,343.3 L1263.0,344.2 L1258.0,346.7 L1255.5,351.7 L1251.3,353.4 L1245.4,352.5 L1239.6,352.5 L1235.4,355.9 L1233.7,361.7 L1230.4,365.1 L1224.5,366.7 L1222.9,370.1 L1219.5,371.8 L1213.7,368.4 L1207.8,364.2 L1201.1,364.2 L1195.3,365.1 L1191.1,367.6 L1184.4,365.4 L1180.2,366.7 L1176.9,370.9 L1181.9,375.9 L1185.3,379.3 L1183.6,382.6 L1186.9,386.0 L1189.4,389.3 L1191.1,395.2 L1191.9,399.3 L1186.9,402.7 L1186.1,404.3 L1192.8,406.9" fill="none" stroke="#a6a6a6" stroke-width="2.6" stroke-linejoin="round" stroke-linecap="round"/>
<g><circle cx="863.2" cy="85.5" r="12.4" fill="#ff0000"/><circle cx="866.1" cy="115.0" r="12.4" fill="#006400"/><circle cx="887.2" cy="109.7" r="12.4" fill="#006400"/><circle cx="902.0" cy="261.1" r="12.4" fill="#0000ff"/><circle cx="922.4" cy="261.6" r="12.4" fill="#0000ff"/><circle cx="862.5" cy="275.7" r="12.4" fill="#ff0000"/><circle cx="866.3" cy="390.9" r="12.4" fill="#ff8c00"/><circle cx="1123.3" cy="297.7" r="12.4" fill="#ff8c00"/><circle cx="1220.4" cy="407.8" r="12.4" fill="#ff0000"/><circle cx="1269.6" cy="385.8" r="12.4" fill="#ff8c00"/><circle cx="1310.5" cy="422.7" r="12.4" fill="#006400"/></g>
<path d="M729.1,673.5 L733.2,672.0 L737.2,670.8 L741.3,670.5 L750.4,666.9 L760.5,662.4 L770.7,657.3 L772.7,655.8 L775.2,651.7 L780.8,645.7 L788.9,637.6 L795.0,632.5 L815.8,603.0 L827.8,582.7 L834.5,570.7 L836.2,556.3 L836.9,543.9 L842.2,542.0 L842.2,531.2 L846.5,528.1 L851.3,527.1 L851.3,521.6 L854.1,516.8 L856.5,510.8 L857.7,503.6 L862.5,498.4 L870.9,497.6 L876.9,495.3 L880.0,496.5 L884.1,502.4 L890.1,503.6 L897.2,496.5 L900.1,495.3 L899.6,500.0 L909.2,501.2 L921.2,503.6 L928.4,502.4 L930.3,498.4 L936.8,499.3 L941.6,493.6 L947.5,492.1 L949.9,496.5 L955.9,496.9 L964.3,494.1 L971.5,495.3 L979.9,491.7 L983.5,489.7 L982.3,484.5 L985.9,483.3 L991.9,485.7 L995.4,482.1 L999.0,483.3 L1000.2,488.1 L1007.4,489.3 L1014.6,486.9 L1021.8,489.3 L1029.0,487.4 L1033.8,490.5 L1042.2,488.1 L1051.0,488.8 L1057.0,488.1 L1063.0,488.1 L1064.2,495.3 L1069.0,494.1 L1071.4,498.4 L1076.1,497.6 L1080.9,503.2 L1084.5,504.8 L1086.9,508.4 L1094.1,514.4 L1097.7,517.5 L1101.8,518.0 L1100.1,522.8 L1101.3,527.6 L1104.9,528.1 L1108.5,531.2 L1110.9,533.6 L1113.8,539.6 L1119.3,536.7 L1124.1,536.0 L1127.6,532.4 L1128.8,536.0 L1127.6,540.8 L1132.4,540.3 L1138.4,538.4 L1143.2,536.7 L1148.0,537.6 L1150.4,535.3 L1152.8,537.6 L1151.6,542.0 L1156.4,542.0 L1163.1,544.4 L1164.1,551.5 L1166.0,556.3 L1169.6,559.9 L1170.3,564.7 L1173.2,569.5 L1172.7,573.1 L1176.7,576.7 L1181.1,580.8 L1176.0,583.2 L1179.1,588.2 L1182.7,587.5 L1188.7,589.9 L1193.0,591.5 L1191.8,597.1 L1195.9,599.4 L1201.9,599.0 L1205.5,598.2 L1206.7,603.8 L1209.1,605.4 L1207.9,612.6 L1211.5,615.7 L1216.3,616.2 L1219.4,619.8 L1217.9,623.9 L1213.9,622.9 L1213.4,625.8 L1217.5,628.2 L1221.8,627.0 L1224.7,630.6 L1223.5,634.2 L1229.4,637.3 L1235.0,638.2 L1242.6,640.2 L1248.6,645.0 L1254.6,646.9 L1258.2,650.9 L1259.4,658.1 L1264.2,662.9 L1272.6,665.3 L1277.3,670.1 L1282.1,672.5 L1284.5,677.3 L1289.3,679.7 L1291.2,684.5 L1288.1,689.3 L1283.3,692.9 L1284.5,698.8 L1283.3,704.8 L1288.1,708.4 L1294.1,709.6 L1295.3,714.4 L1302.5,718.0 L1308.5,726.4 L1309.2,732.4 L1307.3,739.6 L1304.9,744.4 L1310.9,746.8 L1313.3,751.5 L1312.1,763.5 L1306.1,769.5 L1298.9,774.3 L1301.3,781.5 L1304.9,787.5 L1312.1,794.7 L1320.5,800.6 L1318.1,806.6 L1322.9,811.4 L1326.4,813.8 L1328.8,809.0 L1332.4,803.8 L1338.4,803.0 L1345.6,804.7 L1350.4,810.2 L1350.7,815.8 L1354.1,819.2 L1355.7,824.2 L1358.3,828.4 L1359.9,832.6 L1364.1,835.1 L1366.6,839.2 L1368.3,843.4 L1372.5,845.1 L1374.1,850.1 L1369.1,851.8 L1368.3,856.0 L1369.1,861.0 L1368.3,866.0 L1371.6,870.2 L1367.4,872.7 L1364.1,876.0 L1364.9,879.4 L1366.6,884.4 L1364.1,888.5 L1368.3,890.2 L1373.3,892.7 L1373.3,897.7 L1370.0,901.1 L1361.6,898.6 L1351.6,899.4 L1343.2,900.2 L1336.5,902.8 L1329.8,904.4 L1321.5,902.8 L1311.5,901.9 L1298.9,900.2 L1294.7,901.1 L1289.7,906.1 L1283.0,907.8 L1274.7,909.4 L1268.8,911.9 L1264.7,906.1 L1258.0,902.8 L1251.3,902.8 L1247.1,905.3 L1241.3,900.2 L1232.9,899.4 L1226.2,899.4 L1224.5,896.1 L1217.9,893.6 L1212.0,888.5 L1209.5,889.4 L1207.8,894.4 L1204.5,896.1 L1196.1,894.4 L1195.3,891.1 L1197.0,884.4 L1196.1,880.2 L1192.8,879.4 L1184.4,879.4 L1176.1,878.5 L1167.7,878.5 L1164.4,875.2 L1159.4,876.8 L1151.0,876.8 L1153.5,875.6 L1098.9,875.6 L1051.0,875.6 L1021.0,876.0 L990.6,875.7 L980.5,875.2 L975.5,875.2 L967.2,879.1 L958.8,882.7 L950.5,889.4 L940.4,893.6 L932.1,897.4 L923.7,900.8 L917.0,899.8 L910.3,899.1 L901.1,898.1 L897.0,898.6 L892.0,898.1 L886.1,896.1 L880.3,896.9 L873.6,898.6 L869.4,896.9 L863.5,899.4 L856.9,903.6 L850.2,907.0 L840.1,907.5 L833.5,907.5 L828.4,908.1 L823.4,907.0 L818.4,907.5 L815.9,909.1 L813.4,906.1 L809.2,901.1 L808.1,895.3 L809.7,889.4 L810.4,882.7 L808.7,876.0 L809.2,871.0 L808.1,867.7 L809.7,862.7 L811.7,852.6 L813.4,842.6 L812.6,838.4 L814.2,835.1 L815.1,830.9 L817.6,827.6 L823.4,827.9 L856.9,828.1 L890.3,827.9 L901.1,827.2 L910.7,826.7 L910.7,810.0 L917.0,809.2 L923.7,808.3 L928.7,809.5 L933.7,810.0 L938.8,806.2 L943.8,805.5 L950.5,807.5 L957.1,809.2 L962.2,808.9 L967.2,806.7 L972.2,802.5 L972.7,797.1 L975.1,789.9 L983.5,785.1 L988.3,792.3 L995.4,797.1 L1007.4,800.6 L1018.2,803.0 L1021.8,809.0 L1033.8,811.4 L1039.8,809.0 L1044.6,813.8 L1051.0,815.7 L1051.0,815.0 L1060.6,821.0 L1067.8,821.0 L1075.0,823.4 L1082.1,822.2 L1086.9,816.2 L1096.5,815.0 L1106.1,813.8 L1113.3,811.4 L1118.1,806.6 L1119.3,799.4 L1114.5,791.1 L1109.7,789.9 L1101.3,787.5 L1089.3,789.9 L1079.7,792.3 L1072.6,797.1 L1064.2,799.4 L1057.0,797.1 L1051.0,792.3 L1051.0,789.9 L1048.1,785.1 L1041.0,780.3 L1031.4,780.3 L1024.2,783.9 L1018.2,781.5 L1013.4,775.5 L1011.0,768.3 L997.8,765.4 L988.3,763.5 L978.7,765.9 L969.1,770.7 L959.5,767.1 L952.3,769.5 L947.5,777.9 L945.1,786.5 L875.7,786.5 L832.6,787.0 L826.6,783.2 L823.0,782.7 L824.2,777.9 L820.6,771.2 L815.8,768.3 L811.0,764.7 L811.0,751.5 L811.5,742.0 L809.8,734.8 L805.0,732.4 L805.1,732.5 L802.1,729.8 L800.0,725.7 L797.0,720.6 L793.4,717.6 L793.4,713.5 L790.9,708.0 L785.8,703.4 L780.8,701.9 L776.7,697.3 L774.7,692.3 L770.7,688.7 L768.6,685.2 L764.6,681.1 L759.5,677.6 L754.4,675.6 L749.4,674.0 L745.3,673.5 L741.8,674.5 L741.3,677.1 L743.3,679.6 L745.3,681.1 L741.8,682.1 L739.2,682.6 L736.7,682.1 L735.2,678.1 L733.2,675.0 L729.1,673.5Z M834.5,570.7 L839.8,566.6 L854.1,566.4 L864.9,561.1 L875.2,549.6 L887.7,544.4 L897.2,540.8 L908.5,531.7 L918.8,542.0 L928.4,550.3 L939.2,556.3 L937.5,561.1 L949.9,558.2 L951.1,551.5 L955.9,545.1 L961.9,546.8 L966.7,545.1 L973.9,552.7 L979.9,555.9 L988.3,553.5 L1000.2,550.3 L1007.4,556.3 L1014.6,563.5 L1021.8,559.9 L1030.2,553.9 L1031.4,557.5 L1036.2,556.8 L1041.0,563.5 L1042.2,567.1 L1045.7,574.3 L1049.3,582.7 L1051.0,583.9 L1057.0,585.1 L1054.6,591.1 L1052.2,592.3 L1052.2,605.4 L1055.8,611.9 L1072.6,610.9 L1077.8,607.8 L1079.3,603.8 L1075.0,599.4 L1078.5,598.2 L1079.3,595.1 L1096.0,594.7 L1100.1,575.5 L1102.5,560.6 L1114.5,549.6 L1125.3,545.6 L1126.4,536.7 M1042.2,567.8 L1029.0,574.3 L1027.3,580.3 L1021.8,587.5 L1019.4,594.7 L1020.6,599.4 L1017.0,604.2 L1025.4,609.0 L1033.8,613.8 L1047.7,612.1 L1052.2,606.2 M1047.7,612.1 L1043.4,621.0 L1039.8,630.6 L1026.6,634.2 L1013.4,637.3 L1015.8,647.4 L1018.9,659.3 L1018.2,668.9 L1014.6,676.1 L1012.2,680.9 M815.8,603.0 L818.2,606.6 L814.6,612.6 L812.2,618.6 L825.4,628.2 L826.6,633.5 L833.8,622.2 L843.4,612.6 L848.1,616.2 L852.9,617.4 L855.3,621.5 L859.4,622.2 L861.3,627.0 L864.9,633.0 L869.7,640.2 L871.4,650.9 M818.7,655.0 L827.8,650.9 L844.6,645.4 L854.1,646.9 L864.9,652.6 L871.4,651.7 L882.9,650.9 L887.7,652.1 L897.2,649.7 L906.8,648.5 L909.2,652.1 L914.0,653.3 L917.6,658.1 L923.6,653.3 L928.4,659.3 L936.8,664.1 L944.0,663.6 L948.7,667.7 L945.1,673.7 L939.2,679.7 L936.8,678.5 L926.0,676.1 L921.2,678.5 L910.4,674.9 L911.6,680.9 L909.2,688.1 L902.0,692.9 L892.5,695.3 L882.9,694.1 L868.5,690.5 L858.9,689.3 L849.3,686.9 L837.4,688.8 L827.8,685.7 L823.0,682.1 L825.4,676.1 L829.0,671.3 L823.0,666.5 L823.0,661.7 L818.7,655.0 M948.7,667.7 L957.1,676.1 L964.3,680.9 L971.5,683.3 L983.5,685.7 L990.7,686.9 L1003.8,678.5 L1012.2,680.9 L1021.8,686.9 L1033.8,689.3 L1043.4,690.5 L1051.0,688.1 L1057.0,684.5 L1060.6,686.9 L1069.0,689.3 L1075.0,692.9 L1085.7,695.7 L1090.0,690.9 L1101.3,689.7 L1110.4,690.9 L1120.5,705.3 L1149.2,705.3 L1163.6,695.3 L1176.0,686.2 L1194.7,689.3 L1207.2,691.7 L1222.3,689.3 L1230.6,686.2 L1237.3,678.0 L1241.4,667.7 L1244.5,658.1 L1242.6,650.9 L1239.0,644.5 L1235.0,638.2 M1032.6,689.3 L1031.4,703.6 L1032.6,715.6 L1036.2,725.2 L1037.4,737.2 L1035.0,746.8 L1036.2,751.5 L1025.4,758.7 L1019.4,764.7 L1011.0,768.3 M770.1,657.8 L769.6,661.9 L771.7,666.9 L773.7,672.0 L774.7,674.5 L772.2,677.1 L771.7,680.6 L773.2,683.2 L772.2,687.2 L771.2,688.7 M837.4,688.8 L833.8,697.6 L827.8,702.4 L818.2,704.8 L815.8,713.2 L816.3,719.2 L812.2,724.0 L813.4,730.0 L809.8,733.6 M939.2,679.7 L939.2,686.9 L934.4,690.5 L928.4,695.3 L923.6,696.5 L921.2,703.6 L922.4,710.8 L921.2,716.8 L914.0,718.5 L911.6,724.0 L911.1,734.8 L911.6,744.4 L915.2,749.1 L920.0,751.5 L923.6,756.3 L921.2,761.1 L926.0,765.9 L930.8,767.1 L934.4,763.5 L942.8,764.7 L949.9,768.3 L952.3,769.5 M923.6,696.5 L918.8,696.5 L911.6,700.0 L909.2,708.4 L902.0,708.4 L899.6,702.4 L894.9,701.2 L890.1,706.0 L882.9,708.4 L873.3,710.8 L866.1,714.4 L857.7,718.0 L851.7,724.0 L852.9,728.8 L850.5,731.2 L858.9,734.3 L863.7,744.4 L863.7,761.1 L868.5,768.3 L873.3,774.3 L876.9,781.5 L875.7,786.5 M1114.5,791.1 L1118.8,792.7 L1118.1,797.5 L1122.9,798.2 L1127.6,799.0 L1126.4,803.8 L1128.8,809.0 L1133.6,811.4 L1134.8,817.4 L1139.6,823.4 L1140.8,830.6 L1144.4,836.6 L1149.2,842.6 L1150.4,849.7 L1154.0,856.9 L1154.5,866.5 L1153.5,875.6 M901.1,827.6 L897.8,832.6 L900.3,835.1 L898.6,840.1 L894.5,846.8 L891.1,851.8 L892.8,856.0 L890.3,861.0 L891.1,865.2 L887.8,869.4 L888.6,876.0 L892.8,879.4 L895.0,884.4 L896.1,890.2 L898.6,894.1 L899.5,898.1 M958.8,809.2 L957.1,817.5 L958.8,822.6 L965.5,825.9 L968.0,829.2 L969.7,836.8 L975.5,840.9 L978.0,843.4 L977.2,847.6 L981.4,852.6 L983.0,856.0 L982.2,863.5 L979.7,868.5 L978.9,872.7 L980.5,875.2 M1320.5,800.6 L1314.5,806.6 L1308.5,809.0 L1302.5,812.6 L1298.9,807.8 L1290.5,804.2 L1280.9,799.4 L1282.1,809.0 L1279.7,812.5 L1274.7,814.2 L1271.3,818.3 L1268.0,815.8 L1263.0,816.7 L1258.0,819.2 L1255.5,824.2 L1251.3,825.9 L1245.4,825.0 L1239.6,825.0 L1235.4,828.4 L1233.7,834.2 L1230.4,837.6 L1224.5,839.2 L1222.9,842.6 L1219.5,844.3 L1213.7,840.9 L1207.8,836.7 L1201.1,836.7 L1195.3,837.6 L1191.1,840.1 L1184.4,837.9 L1180.2,839.2 L1176.9,843.4 L1181.9,848.4 L1185.3,851.8 L1183.6,855.1 L1186.9,858.5 L1189.4,861.8 L1191.1,867.7 L1191.9,871.8 L1186.9,875.2 L1186.1,876.8 L1192.8,879.4" fill="none" stroke="#a6a6a6" stroke-width="2.6" stroke-linejoin="round" stroke-linecap="round"/>
<g><circle cx="839.3" cy="548.2" r="12.4" fill="#ff0000"/><circle cx="863.2" cy="558.7" r="12.4" fill="#ff8c00"/><circle cx="887.2" cy="582.2" r="12.4" fill="#0000ff"/><circle cx="866.6" cy="587.9" r="12.4" fill="#006400"/><circle cx="864.2" cy="644.9" r="12.4" fill="#ff0000"/><circle cx="775.1" cy="665.1" r="12.4" fill="#ff0000"/><circle cx="820.6" cy="666.0" r="12.4" fill="#ff0000"/><circle cx="808.6" cy="690.9" r="12.4" fill="#ff0000"/><circle cx="859.4" cy="701.0" r="12.4" fill="#ff8c00"/><circle cx="902.5" cy="734.0" r="12.4" fill="#ff0000"/><circle cx="862.3" cy="747.9" r="12.4" fill="#00ffff"/><circle cx="1049.1" cy="727.8" r="12.4" fill="#0000ff"/><circle cx="1123.3" cy="770.0" r="12.4" fill="#00ffff"/><circle cx="999.3" cy="856.2" r="12.4" fill="#ff8c00"/><circle cx="861.3" cy="884.9" r="12.4" fill="#0000ff"/></g>
<path d="M729.1,1146.0 L733.2,1144.5 L737.2,1143.3 L741.3,1143.0 L750.4,1139.4 L760.5,1134.9 L770.7,1129.8 L772.7,1128.3 L775.2,1124.2 L780.8,1118.2 L788.9,1110.1 L795.0,1105.0 L815.8,1075.5 L827.8,1055.2 L834.5,1043.2 L836.2,1028.8 L836.9,1016.4 L842.2,1014.5 L842.2,1003.7 L846.5,1000.6 L851.3,999.6 L851.3,994.1 L854.1,989.3 L856.5,983.3 L857.7,976.1 L862.5,970.9 L870.9,970.1 L876.9,967.8 L880.0,969.0 L884.1,974.9 L890.1,976.1 L897.2,969.0 L900.1,967.8 L899.6,972.5 L909.2,973.7 L921.2,976.1 L928.4,974.9 L930.3,970.9 L936.8,971.8 L941.6,966.1 L947.5,964.6 L949.9,969.0 L955.9,969.4 L964.3,966.6 L971.5,967.8 L979.9,964.2 L983.5,962.2 L982.3,957.0 L985.9,955.8 L991.9,958.2 L995.4,954.6 L999.0,955.8 L1000.2,960.6 L1007.4,961.8 L1014.6,959.4 L1021.8,961.8 L1029.0,959.9 L1033.8,963.0 L1042.2,960.6 L1051.0,961.3 L1057.0,960.6 L1063.0,960.6 L1064.2,967.8 L1069.0,966.6 L1071.4,970.9 L1076.1,970.1 L1080.9,975.7 L1084.5,977.3 L1086.9,980.9 L1094.1,986.9 L1097.7,990.0 L1101.8,990.5 L1100.1,995.3 L1101.3,1000.1 L1104.9,1000.6 L1108.5,1003.7 L1110.9,1006.1 L1113.8,1012.1 L1119.3,1009.2 L1124.1,1008.5 L1127.6,1004.9 L1128.8,1008.5 L1127.6,1013.3 L1132.4,1012.8 L1138.4,1010.9 L1143.2,1009.2 L1148.0,1010.1 L1150.4,1007.8 L1152.8,1010.1 L1151.6,1014.5 L1156.4,1014.5 L1163.1,1016.9 L1164.1,1024.0 L1166.0,1028.8 L1169.6,1032.4 L1170.3,1037.2 L1173.2,1042.0 L1172.7,1045.6 L1176.7,1049.2 L1181.1,1053.3 L1176.0,1055.7 L1179.1,1060.7 L1182.7,1060.0 L1188.7,1062.4 L1193.0,1064.0 L1191.8,1069.6 L1195.9,1071.9 L1201.9,1071.5 L1205.5,1070.7 L1206.7,1076.3 L1209.1,1077.9 L1207.9,1085.1 L1211.5,1088.2 L1216.3,1088.7 L1219.4,1092.3 L1217.9,1096.4 L1213.9,1095.4 L1213.4,1098.3 L1217.5,1100.7 L1221.8,1099.5 L1224.7,1103.1 L1223.5,1106.7 L1229.4,1109.8 L1235.0,1110.7 L1242.6,1112.7 L1248.6,1117.5 L1254.6,1119.4 L1258.2,1123.4 L1259.4,1130.6 L1264.2,1135.4 L1272.6,1137.8 L1277.3,1142.6 L1282.1,1145.0 L1284.5,1149.8 L1289.3,1152.2 L1291.2,1157.0 L1288.1,1161.8 L1283.3,1165.4 L1284.5,1171.3 L1283.3,1177.3 L1288.1,1180.9 L1294.1,1182.1 L1295.3,1186.9 L1302.5,1190.5 L1308.5,1198.9 L1309.2,1204.9 L1307.3,1212.1 L1304.9,1216.9 L1310.9,1219.3 L1313.3,1224.0 L1312.1,1236.0 L1306.1,1242.0 L1298.9,1246.8 L1301.3,1254.0 L1304.9,1260.0 L1312.1,1267.2 L1320.5,1273.1 L1318.1,1279.1 L1322.9,1283.9 L1326.4,1286.3 L1328.8,1281.5 L1332.4,1276.3 L1338.4,1275.5 L1345.6,1277.2 L1350.4,1282.7 L1350.7,1288.3 L1354.1,1291.7 L1355.7,1296.7 L1358.3,1300.9 L1359.9,1305.1 L1364.1,1307.6 L1366.6,1311.7 L1368.3,1315.9 L1372.5,1317.6 L1374.1,1322.6 L1369.1,1324.3 L1368.3,1328.5 L1369.1,1333.5 L1368.3,1338.5 L1371.6,1342.7 L1367.4,1345.2 L1364.1,1348.5 L1364.9,1351.9 L1366.6,1356.9 L1364.1,1361.0 L1368.3,1362.7 L1373.3,1365.2 L1373.3,1370.2 L1370.0,1373.6 L1361.6,1371.1 L1351.6,1371.9 L1343.2,1372.7 L1336.5,1375.3 L1329.8,1376.9 L1321.5,1375.3 L1311.5,1374.4 L1298.9,1372.7 L1294.7,1373.6 L1289.7,1378.6 L1283.0,1380.3 L1274.7,1381.9 L1268.8,1384.4 L1264.7,1378.6 L1258.0,1375.3 L1251.3,1375.3 L1247.1,1377.8 L1241.3,1372.7 L1232.9,1371.9 L1226.2,1371.9 L1224.5,1368.6 L1217.9,1366.1 L1212.0,1361.0 L1209.5,1361.9 L1207.8,1366.9 L1204.5,1368.6 L1196.1,1366.9 L1195.3,1363.6 L1197.0,1356.9 L1196.1,1352.7 L1192.8,1351.9 L1184.4,1351.9 L1176.1,1351.0 L1167.7,1351.0 L1164.4,1347.7 L1159.4,1349.3 L1151.0,1349.3 L1153.5,1348.1 L1098.9,1348.1 L1051.0,1348.1 L1021.0,1348.5 L990.6,1348.2 L980.5,1347.7 L975.5,1347.7 L967.2,1351.6 L958.8,1355.2 L950.5,1361.9 L940.4,1366.1 L932.1,1369.9 L923.7,1373.3 L917.0,1372.3 L910.3,1371.6 L901.1,1370.6 L897.0,1371.1 L892.0,1370.6 L886.1,1368.6 L880.3,1369.4 L873.6,1371.1 L869.4,1369.4 L863.5,1371.9 L856.9,1376.1 L850.2,1379.5 L840.1,1380.0 L833.5,1380.0 L828.4,1380.6 L823.4,1379.5 L818.4,1380.0 L815.9,1381.6 L813.4,1378.6 L809.2,1373.6 L808.1,1367.8 L809.7,1361.9 L810.4,1355.2 L808.7,1348.5 L809.2,1343.5 L808.1,1340.2 L809.7,1335.2 L811.7,1325.1 L813.4,1315.1 L812.6,1310.9 L814.2,1307.6 L815.1,1303.4 L817.6,1300.1 L823.4,1300.4 L856.9,1300.6 L890.3,1300.4 L901.1,1299.7 L910.7,1299.2 L910.7,1282.5 L917.0,1281.7 L923.7,1280.8 L928.7,1282.0 L933.7,1282.5 L938.8,1278.7 L943.8,1278.0 L950.5,1280.0 L957.1,1281.7 L962.2,1281.4 L967.2,1279.2 L972.2,1275.0 L972.7,1269.6 L975.1,1262.4 L983.5,1257.6 L988.3,1264.8 L995.4,1269.6 L1007.4,1273.1 L1018.2,1275.5 L1021.8,1281.5 L1033.8,1283.9 L1039.8,1281.5 L1044.6,1286.3 L1051.0,1288.2 L1051.0,1287.5 L1060.6,1293.5 L1067.8,1293.5 L1075.0,1295.9 L1082.1,1294.7 L1086.9,1288.7 L1096.5,1287.5 L1106.1,1286.3 L1113.3,1283.9 L1118.1,1279.1 L1119.3,1271.9 L1114.5,1263.6 L1109.7,1262.4 L1101.3,1260.0 L1089.3,1262.4 L1079.7,1264.8 L1072.6,1269.6 L1064.2,1271.9 L1057.0,1269.6 L1051.0,1264.8 L1051.0,1262.4 L1048.1,1257.6 L1041.0,1252.8 L1031.4,1252.8 L1024.2,1256.4 L1018.2,1254.0 L1013.4,1248.0 L1011.0,1240.8 L997.8,1237.9 L988.3,1236.0 L978.7,1238.4 L969.1,1243.2 L959.5,1239.6 L952.3,1242.0 L947.5,1250.4 L945.1,1259.0 L875.7,1259.0 L832.6,1259.5 L826.6,1255.7 L823.0,1255.2 L824.2,1250.4 L820.6,1243.7 L815.8,1240.8 L811.0,1237.2 L811.0,1224.0 L811.5,1214.5 L809.8,1207.3 L805.0,1204.9 L805.1,1205.0 L802.1,1202.3 L800.0,1198.2 L797.0,1193.1 L793.4,1190.1 L793.4,1186.0 L790.9,1180.5 L785.8,1175.9 L780.8,1174.4 L776.7,1169.8 L774.7,1164.8 L770.7,1161.2 L768.6,1157.7 L764.6,1153.6 L759.5,1150.1 L754.4,1148.1 L749.4,1146.5 L745.3,1146.0 L741.8,1147.0 L741.3,1149.6 L743.3,1152.1 L745.3,1153.6 L741.8,1154.6 L739.2,1155.1 L736.7,1154.6 L735.2,1150.6 L733.2,1147.5 L729.1,1146.0Z M834.5,1043.2 L839.8,1039.1 L854.1,1038.9 L864.9,1033.6 L875.2,1022.1 L887.7,1016.9 L897.2,1013.3 L908.5,1004.2 L918.8,1014.5 L928.4,1022.8 L939.2,1028.8 L937.5,1033.6 L949.9,1030.7 L951.1,1024.0 L955.9,1017.6 L961.9,1019.3 L966.7,1017.6 L973.9,1025.2 L979.9,1028.4 L988.3,1026.0 L1000.2,1022.8 L1007.4,1028.8 L1014.6,1036.0 L1021.8,1032.4 L1030.2,1026.4 L1031.4,1030.0 L1036.2,1029.3 L1041.0,1036.0 L1042.2,1039.6 L1045.7,1046.8 L1049.3,1055.2 L1051.0,1056.4 L1057.0,1057.6 L1054.6,1063.6 L1052.2,1064.8 L1052.2,1077.9 L1055.8,1084.4 L1072.6,1083.4 L1077.8,1080.3 L1079.3,1076.3 L1075.0,1071.9 L1078.5,1070.7 L1079.3,1067.6 L1096.0,1067.2 L1100.1,1048.0 L1102.5,1033.1 L1114.5,1022.1 L1125.3,1018.1 L1126.4,1009.2 M1042.2,1040.3 L1029.0,1046.8 L1027.3,1052.8 L1021.8,1060.0 L1019.4,1067.2 L1020.6,1071.9 L1017.0,1076.7 L1025.4,1081.5 L1033.8,1086.3 L1047.7,1084.6 L1052.2,1078.7 M1047.7,1084.6 L1043.4,1093.5 L1039.8,1103.1 L1026.6,1106.7 L1013.4,1109.8 L1015.8,1119.9 L1018.9,1131.8 L1018.2,1141.4 L1014.6,1148.6 L1012.2,1153.4 M815.8,1075.5 L818.2,1079.1 L814.6,1085.1 L812.2,1091.1 L825.4,1100.7 L826.6,1106.0 L833.8,1094.7 L843.4,1085.1 L848.1,1088.7 L852.9,1089.9 L855.3,1094.0 L859.4,1094.7 L861.3,1099.5 L864.9,1105.5 L869.7,1112.7 L871.4,1123.4 M818.7,1127.5 L827.8,1123.4 L844.6,1117.9 L854.1,1119.4 L864.9,1125.1 L871.4,1124.2 L882.9,1123.4 L887.7,1124.6 L897.2,1122.2 L906.8,1121.0 L909.2,1124.6 L914.0,1125.8 L917.6,1130.6 L923.6,1125.8 L928.4,1131.8 L936.8,1136.6 L944.0,1136.1 L948.7,1140.2 L945.1,1146.2 L939.2,1152.2 L936.8,1151.0 L926.0,1148.6 L921.2,1151.0 L910.4,1147.4 L911.6,1153.4 L909.2,1160.6 L902.0,1165.4 L892.5,1167.8 L882.9,1166.6 L868.5,1163.0 L858.9,1161.8 L849.3,1159.4 L837.4,1161.3 L827.8,1158.2 L823.0,1154.6 L825.4,1148.6 L829.0,1143.8 L823.0,1139.0 L823.0,1134.2 L818.7,1127.5 M948.7,1140.2 L957.1,1148.6 L964.3,1153.4 L971.5,1155.8 L983.5,1158.2 L990.7,1159.4 L1003.8,1151.0 L1012.2,1153.4 L1021.8,1159.4 L1033.8,1161.8 L1043.4,1163.0 L1051.0,1160.6 L1057.0,1157.0 L1060.6,1159.4 L1069.0,1161.8 L1075.0,1165.4 L1085.7,1168.2 L1090.0,1163.4 L1101.3,1162.2 L1110.4,1163.4 L1120.5,1177.8 L1149.2,1177.8 L1163.6,1167.8 L1176.0,1158.7 L1194.7,1161.8 L1207.2,1164.2 L1222.3,1161.8 L1230.6,1158.7 L1237.3,1150.5 L1241.4,1140.2 L1244.5,1130.6 L1242.6,1123.4 L1239.0,1117.0 L1235.0,1110.7 M1032.6,1161.8 L1031.4,1176.1 L1032.6,1188.1 L1036.2,1197.7 L1037.4,1209.7 L1035.0,1219.3 L1036.2,1224.0 L1025.4,1231.2 L1019.4,1237.2 L1011.0,1240.8 M770.1,1130.3 L769.6,1134.4 L771.7,1139.4 L773.7,1144.5 L774.7,1147.0 L772.2,1149.6 L771.7,1153.1 L773.2,1155.7 L772.2,1159.7 L771.2,1161.2 M837.4,1161.3 L833.8,1170.1 L827.8,1174.9 L818.2,1177.3 L815.8,1185.7 L816.3,1191.7 L812.2,1196.5 L813.4,1202.5 L809.8,1206.1 M939.2,1152.2 L939.2,1159.4 L934.4,1163.0 L928.4,1167.8 L923.6,1169.0 L921.2,1176.1 L922.4,1183.3 L921.2,1189.3 L914.0,1191.0 L911.6,1196.5 L911.1,1207.3 L911.6,1216.9 L915.2,1221.6 L920.0,1224.0 L923.6,1228.8 L921.2,1233.6 L926.0,1238.4 L930.8,1239.6 L934.4,1236.0 L942.8,1237.2 L949.9,1240.8 L952.3,1242.0 M923.6,1169.0 L918.8,1169.0 L911.6,1172.5 L909.2,1180.9 L902.0,1180.9 L899.6,1174.9 L894.9,1173.7 L890.1,1178.5 L882.9,1180.9 L873.3,1183.3 L866.1,1186.9 L857.7,1190.5 L851.7,1196.5 L852.9,1201.3 L850.5,1203.7 L858.9,1206.8 L863.7,1216.9 L863.7,1233.6 L868.5,1240.8 L873.3,1246.8 L876.9,1254.0 L875.7,1259.0 M1114.5,1263.6 L1118.8,1265.2 L1118.1,1270.0 L1122.9,1270.7 L1127.6,1271.5 L1126.4,1276.3 L1128.8,1281.5 L1133.6,1283.9 L1134.8,1289.9 L1139.6,1295.9 L1140.8,1303.1 L1144.4,1309.1 L1149.2,1315.1 L1150.4,1322.2 L1154.0,1329.4 L1154.5,1339.0 L1153.5,1348.1 M901.1,1300.1 L897.8,1305.1 L900.3,1307.6 L898.6,1312.6 L894.5,1319.3 L891.1,1324.3 L892.8,1328.5 L890.3,1333.5 L891.1,1337.7 L887.8,1341.9 L888.6,1348.5 L892.8,1351.9 L895.0,1356.9 L896.1,1362.7 L898.6,1366.6 L899.5,1370.6 M958.8,1281.7 L957.1,1290.0 L958.8,1295.1 L965.5,1298.4 L968.0,1301.7 L969.7,1309.3 L975.5,1313.4 L978.0,1315.9 L977.2,1320.1 L981.4,1325.1 L983.0,1328.5 L982.2,1336.0 L979.7,1341.0 L978.9,1345.2 L980.5,1347.7 M1320.5,1273.1 L1314.5,1279.1 L1308.5,1281.5 L1302.5,1285.1 L1298.9,1280.3 L1290.5,1276.7 L1280.9,1271.9 L1282.1,1281.5 L1279.7,1285.0 L1274.7,1286.7 L1271.3,1290.8 L1268.0,1288.3 L1263.0,1289.2 L1258.0,1291.7 L1255.5,1296.7 L1251.3,1298.4 L1245.4,1297.5 L1239.6,1297.5 L1235.4,1300.9 L1233.7,1306.7 L1230.4,1310.1 L1224.5,1311.7 L1222.9,1315.1 L1219.5,1316.8 L1213.7,1313.4 L1207.8,1309.2 L1201.1,1309.2 L1195.3,1310.1 L1191.1,1312.6 L1184.4,1310.4 L1180.2,1311.7 L1176.9,1315.9 L1181.9,1320.9 L1185.3,1324.3 L1183.6,1327.6 L1186.9,1331.0 L1189.4,1334.3 L1191.1,1340.2 L1191.9,1344.3 L1186.9,1347.7 L1186.1,1349.3 L1192.8,1351.9" fill="none" stroke="#a6a6a6" stroke-width="2.6" stroke-linejoin="round" stroke-linecap="round"/>
<g><circle cx="863.2" cy="1030.5" r="12.4" fill="#006400"/><circle cx="866.1" cy="1060.0" r="12.4" fill="#006400"/><circle cx="887.2" cy="1054.7" r="12.4" fill="#006400"/><circle cx="902.0" cy="1206.1" r="12.4" fill="#0000ff"/><circle cx="922.4" cy="1206.6" r="12.4" fill="#0000ff"/><circle cx="862.5" cy="1220.7" r="12.4" fill="#006400"/><circle cx="866.3" cy="1335.9" r="12.4" fill="#ff8c00"/><circle cx="1123.3" cy="1242.7" r="12.4" fill="#ff0000"/><circle cx="1220.4" cy="1352.8" r="12.4" fill="#ff0000"/><circle cx="1269.6" cy="1330.8" r="12.4" fill="#ff0000"/><circle cx="1310.5" cy="1367.7" r="12.4" fill="#ff0000"/></g>
<path d="M729.1,1618.5 L733.2,1617.0 L737.2,1615.8 L741.3,1615.5 L750.4,1611.9 L760.5,1607.4 L770.7,1602.3 L772.7,1600.8 L775.2,1596.7 L780.8,1590.7 L788.9,1582.6 L795.0,1577.5 L815.8,1548.0 L827.8,1527.7 L834.5,1515.7 L836.2,1501.3 L836.9,1488.9 L842.2,1487.0 L842.2,1476.2 L846.5,1473.1 L851.3,1472.1 L851.3,1466.6 L854.1,1461.8 L856.5,1455.8 L857.7,1448.6 L862.5,1443.4 L870.9,1442.6 L876.9,1440.3 L880.0,1441.5 L884.1,1447.4 L890.1,1448.6 L897.2,1441.5 L900.1,1440.3 L899.6,1445.0 L909.2,1446.2 L921.2,1448.6 L928.4,1447.4 L930.3,1443.4 L936.8,1444.3 L941.6,1438.6 L947.5,1437.1 L949.9,1441.5 L955.9,1441.9 L964.3,1439.1 L971.5,1440.3 L979.9,1436.7 L983.5,1434.7 L982.3,1429.5 L985.9,1428.3 L991.9,1430.7 L995.4,1427.1 L999.0,1428.3 L1000.2,1433.1 L1007.4,1434.3 L1014.6,1431.9 L1021.8,1434.3 L1029.0,1432.4 L1033.8,1435.5 L1042.2,1433.1 L1051.0,1433.8 L1057.0,1433.1 L1063.0,1433.1 L1064.2,1440.3 L1069.0,1439.1 L1071.4,1443.4 L1076.1,1442.6 L1080.9,1448.2 L1084.5,1449.8 L1086.9,1453.4 L1094.1,1459.4 L1097.7,1462.5 L1101.8,1463.0 L1100.1,1467.8 L1101.3,1472.6 L1104.9,1473.1 L1108.5,1476.2 L1110.9,1478.6 L1113.8,1484.6 L1119.3,1481.7 L1124.1,1481.0 L1127.6,1477.4 L1128.8,1481.0 L1127.6,1485.8 L1132.4,1485.3 L1138.4,1483.4 L1143.2,1481.7 L1148.0,1482.6 L1150.4,1480.3 L1152.8,1482.6 L1151.6,1487.0 L1156.4,1487.0 L1163.1,1489.4 L1164.1,1496.5 L1166.0,1501.3 L1169.6,1504.9 L1170.3,1509.7 L1173.2,1514.5 L1172.7,1518.1 L1176.7,1521.7 L1181.1,1525.8 L1176.0,1528.2 L1179.1,1533.2 L1182.7,1532.5 L1188.7,1534.9 L1193.0,1536.5 L1191.8,1542.1 L1195.9,1544.4 L1201.9,1544.0 L1205.5,1543.2 L1206.7,1548.8 L1209.1,1550.4 L1207.9,1557.6 L1211.5,1560.7 L1216.3,1561.2 L1219.4,1564.8 L1217.9,1568.9 L1213.9,1567.9 L1213.4,1570.8 L1217.5,1573.2 L1221.8,1572.0 L1224.7,1575.6 L1223.5,1579.2 L1229.4,1582.3 L1235.0,1583.2 L1242.6,1585.2 L1248.6,1590.0 L1254.6,1591.9 L1258.2,1595.9 L1259.4,1603.1 L1264.2,1607.9 L1272.6,1610.3 L1277.3,1615.1 L1282.1,1617.5 L1284.5,1622.3 L1289.3,1624.7 L1291.2,1629.5 L1288.1,1634.3 L1283.3,1637.9 L1284.5,1643.8 L1283.3,1649.8 L1288.1,1653.4 L1294.1,1654.6 L1295.3,1659.4 L1302.5,1663.0 L1308.5,1671.4 L1309.2,1677.4 L1307.3,1684.6 L1304.9,1689.4 L1310.9,1691.8 L1313.3,1696.5 L1312.1,1708.5 L1306.1,1714.5 L1298.9,1719.3 L1301.3,1726.5 L1304.9,1732.5 L1312.1,1739.7 L1320.5,1745.6 L1318.1,1751.6 L1322.9,1756.4 L1326.4,1758.8 L1328.8,1754.0 L1332.4,1748.8 L1338.4,1748.0 L1345.6,1749.7 L1350.4,1755.2 L1350.7,1760.8 L1354.1,1764.2 L1355.7,1769.2 L1358.3,1773.4 L1359.9,1777.6 L1364.1,1780.1 L1366.6,1784.2 L1368.3,1788.4 L1372.5,1790.1 L1374.1,1795.1 L1369.1,1796.8 L1368.3,1801.0 L1369.1,1806.0 L1368.3,1811.0 L1371.6,1815.2 L1367.4,1817.7 L1364.1,1821.0 L1364.9,1824.4 L1366.6,1829.4 L1364.1,1833.5 L1368.3,1835.2 L1373.3,1837.7 L1373.3,1842.7 L1370.0,1846.1 L1361.6,1843.6 L1351.6,1844.4 L1343.2,1845.2 L1336.5,1847.8 L1329.8,1849.4 L1321.5,1847.8 L1311.5,1846.9 L1298.9,1845.2 L1294.7,1846.1 L1289.7,1851.1 L1283.0,1852.8 L1274.7,1854.4 L1268.8,1856.9 L1264.7,1851.1 L1258.0,1847.8 L1251.3,1847.8 L1247.1,1850.3 L1241.3,1845.2 L1232.9,1844.4 L1226.2,1844.4 L1224.5,1841.1 L1217.9,1838.6 L1212.0,1833.5 L1209.5,1834.4 L1207.8,1839.4 L1204.5,1841.1 L1196.1,1839.4 L1195.3,1836.1 L1197.0,1829.4 L1196.1,1825.2 L1192.8,1824.4 L1184.4,1824.4 L1176.1,1823.5 L1167.7,1823.5 L1164.4,1820.2 L1159.4,1821.8 L1151.0,1821.8 L1153.5,1820.6 L1098.9,1820.6 L1051.0,1820.6 L1021.0,1821.0 L990.6,1820.7 L980.5,1820.2 L975.5,1820.2 L967.2,1824.1 L958.8,1827.7 L950.5,1834.4 L940.4,1838.6 L932.1,1842.4 L923.7,1845.8 L917.0,1844.8 L910.3,1844.1 L901.1,1843.1 L897.0,1843.6 L892.0,1843.1 L886.1,1841.1 L880.3,1841.9 L873.6,1843.6 L869.4,1841.9 L863.5,1844.4 L856.9,1848.6 L850.2,1852.0 L840.1,1852.5 L833.5,1852.5 L828.4,1853.1 L823.4,1852.0 L818.4,1852.5 L815.9,1854.1 L813.4,1851.1 L809.2,1846.1 L808.1,1840.3 L809.7,1834.4 L810.4,1827.7 L808.7,1821.0 L809.2,1816.0 L808.1,1812.7 L809.7,1807.7 L811.7,1797.6 L813.4,1787.6 L812.6,1783.4 L814.2,1780.1 L815.1,1775.9 L817.6,1772.6 L823.4,1772.9 L856.9,1773.1 L890.3,1772.9 L901.1,1772.2 L910.7,1771.7 L910.7,1755.0 L917.0,1754.2 L923.7,1753.3 L928.7,1754.5 L933.7,1755.0 L938.8,1751.2 L943.8,1750.5 L950.5,1752.5 L957.1,1754.2 L962.2,1753.9 L967.2,1751.7 L972.2,1747.5 L972.7,1742.1 L975.1,1734.9 L983.5,1730.1 L988.3,1737.3 L995.4,1742.1 L1007.4,1745.6 L1018.2,1748.0 L1021.8,1754.0 L1033.8,1756.4 L1039.8,1754.0 L1044.6,1758.8 L1051.0,1760.7 L1051.0,1760.0 L1060.6,1766.0 L1067.8,1766.0 L1075.0,1768.4 L1082.1,1767.2 L1086.9,1761.2 L1096.5,1760.0 L1106.1,1758.8 L1113.3,1756.4 L1118.1,1751.6 L1119.3,1744.4 L1114.5,1736.1 L1109.7,1734.9 L1101.3,1732.5 L1089.3,1734.9 L1079.7,1737.3 L1072.6,1742.1 L1064.2,1744.4 L1057.0,1742.1 L1051.0,1737.3 L1051.0,1734.9 L1048.1,1730.1 L1041.0,1725.3 L1031.4,1725.3 L1024.2,1728.9 L1018.2,1726.5 L1013.4,1720.5 L1011.0,1713.3 L997.8,1710.4 L988.3,1708.5 L978.7,1710.9 L969.1,1715.7 L959.5,1712.1 L952.3,1714.5 L947.5,1722.9 L945.1,1731.5 L875.7,1731.5 L832.6,1732.0 L826.6,1728.2 L823.0,1727.7 L824.2,1722.9 L820.6,1716.2 L815.8,1713.3 L811.0,1709.7 L811.0,1696.5 L811.5,1687.0 L809.8,1679.8 L805.0,1677.4 L805.1,1677.5 L802.1,1674.8 L800.0,1670.7 L797.0,1665.6 L793.4,1662.6 L793.4,1658.5 L790.9,1653.0 L785.8,1648.4 L780.8,1646.9 L776.7,1642.3 L774.7,1637.3 L770.7,1633.7 L768.6,1630.2 L764.6,1626.1 L759.5,1622.6 L754.4,1620.6 L749.4,1619.0 L745.3,1618.5 L741.8,1619.5 L741.3,1622.1 L743.3,1624.6 L745.3,1626.1 L741.8,1627.1 L739.2,1627.6 L736.7,1627.1 L735.2,1623.1 L733.2,1620.0 L729.1,1618.5Z M834.5,1515.7 L839.8,1511.6 L854.1,1511.4 L864.9,1506.1 L875.2,1494.6 L887.7,1489.4 L897.2,1485.8 L908.5,1476.7 L918.8,1487.0 L928.4,1495.3 L939.2,1501.3 L937.5,1506.1 L949.9,1503.2 L951.1,1496.5 L955.9,1490.1 L961.9,1491.8 L966.7,1490.1 L973.9,1497.7 L979.9,1500.9 L988.3,1498.5 L1000.2,1495.3 L1007.4,1501.3 L1014.6,1508.5 L1021.8,1504.9 L1030.2,1498.9 L1031.4,1502.5 L1036.2,1501.8 L1041.0,1508.5 L1042.2,1512.1 L1045.7,1519.3 L1049.3,1527.7 L1051.0,1528.9 L1057.0,1530.1 L1054.6,1536.1 L1052.2,1537.3 L1052.2,1550.4 L1055.8,1556.9 L1072.6,1555.9 L1077.8,1552.8 L1079.3,1548.8 L1075.0,1544.4 L1078.5,1543.2 L1079.3,1540.1 L1096.0,1539.7 L1100.1,1520.5 L1102.5,1505.6 L1114.5,1494.6 L1125.3,1490.6 L1126.4,1481.7 M1042.2,1512.8 L1029.0,1519.3 L1027.3,1525.3 L1021.8,1532.5 L1019.4,1539.7 L1020.6,1544.4 L1017.0,1549.2 L1025.4,1554.0 L1033.8,1558.8 L1047.7,1557.1 L1052.2,1551.2 M1047.7,1557.1 L1043.4,1566.0 L1039.8,1575.6 L1026.6,1579.2 L1013.4,1582.3 L1015.8,1592.4 L1018.9,1604.3 L1018.2,1613.9 L1014.6,1621.1 L1012.2,1625.9 M815.8,1548.0 L818.2,1551.6 L814.6,1557.6 L812.2,1563.6 L825.4,1573.2 L826.6,1578.5 L833.8,1567.2 L843.4,1557.6 L848.1,1561.2 L852.9,1562.4 L855.3,1566.5 L859.4,1567.2 L861.3,1572.0 L864.9,1578.0 L869.7,1585.2 L871.4,1595.9 M818.7,1600.0 L827.8,1595.9 L844.6,1590.4 L854.1,1591.9 L864.9,1597.6 L871.4,1596.7 L882.9,1595.9 L887.7,1597.1 L897.2,1594.7 L906.8,1593.5 L909.2,1597.1 L914.0,1598.3 L917.6,1603.1 L923.6,1598.3 L928.4,1604.3 L936.8,1609.1 L944.0,1608.6 L948.7,1612.7 L945.1,1618.7 L939.2,1624.7 L936.8,1623.5 L926.0,1621.1 L921.2,1623.5 L910.4,1619.9 L911.6,1625.9 L909.2,1633.1 L902.0,1637.9 L892.5,1640.3 L882.9,1639.1 L868.5,1635.5 L858.9,1634.3 L849.3,1631.9 L837.4,1633.8 L827.8,1630.7 L823.0,1627.1 L825.4,1621.1 L829.0,1616.3 L823.0,1611.5 L823.0,1606.7 L818.7,1600.0 M948.7,1612.7 L957.1,1621.1 L964.3,1625.9 L971.5,1628.3 L983.5,1630.7 L990.7,1631.9 L1003.8,1623.5 L1012.2,1625.9 L1021.8,1631.9 L1033.8,1634.3 L1043.4,1635.5 L1051.0,1633.1 L1057.0,1629.5 L1060.6,1631.9 L1069.0,1634.3 L1075.0,1637.9 L1085.7,1640.7 L1090.0,1635.9 L1101.3,1634.7 L1110.4,1635.9 L1120.5,1650.3 L1149.2,1650.3 L1163.6,1640.3 L1176.0,1631.2 L1194.7,1634.3 L1207.2,1636.7 L1222.3,1634.3 L1230.6,1631.2 L1237.3,1623.0 L1241.4,1612.7 L1244.5,1603.1 L1242.6,1595.9 L1239.0,1589.5 L1235.0,1583.2 M1032.6,1634.3 L1031.4,1648.6 L1032.6,1660.6 L1036.2,1670.2 L1037.4,1682.2 L1035.0,1691.8 L1036.2,1696.5 L1025.4,1703.7 L1019.4,1709.7 L1011.0,1713.3 M770.1,1602.8 L769.6,1606.9 L771.7,1611.9 L773.7,1617.0 L774.7,1619.5 L772.2,1622.1 L771.7,1625.6 L773.2,1628.2 L772.2,1632.2 L771.2,1633.7 M837.4,1633.8 L833.8,1642.6 L827.8,1647.4 L818.2,1649.8 L815.8,1658.2 L816.3,1664.2 L812.2,1669.0 L813.4,1675.0 L809.8,1678.6 M939.2,1624.7 L939.2,1631.9 L934.4,1635.5 L928.4,1640.3 L923.6,1641.5 L921.2,1648.6 L922.4,1655.8 L921.2,1661.8 L914.0,1663.5 L911.6,1669.0 L911.1,1679.8 L911.6,1689.4 L915.2,1694.1 L920.0,1696.5 L923.6,1701.3 L921.2,1706.1 L926.0,1710.9 L930.8,1712.1 L934.4,1708.5 L942.8,1709.7 L949.9,1713.3 L952.3,1714.5 M923.6,1641.5 L918.8,1641.5 L911.6,1645.0 L909.2,1653.4 L902.0,1653.4 L899.6,1647.4 L894.9,1646.2 L890.1,1651.0 L882.9,1653.4 L873.3,1655.8 L866.1,1659.4 L857.7,1663.0 L851.7,1669.0 L852.9,1673.8 L850.5,1676.2 L858.9,1679.3 L863.7,1689.4 L863.7,1706.1 L868.5,1713.3 L873.3,1719.3 L876.9,1726.5 L875.7,1731.5 M1114.5,1736.1 L1118.8,1737.7 L1118.1,1742.5 L1122.9,1743.2 L1127.6,1744.0 L1126.4,1748.8 L1128.8,1754.0 L1133.6,1756.4 L1134.8,1762.4 L1139.6,1768.4 L1140.8,1775.6 L1144.4,1781.6 L1149.2,1787.6 L1150.4,1794.7 L1154.0,1801.9 L1154.5,1811.5 L1153.5,1820.6 M901.1,1772.6 L897.8,1777.6 L900.3,1780.1 L898.6,1785.1 L894.5,1791.8 L891.1,1796.8 L892.8,1801.0 L890.3,1806.0 L891.1,1810.2 L887.8,1814.4 L888.6,1821.0 L892.8,1824.4 L895.0,1829.4 L896.1,1835.2 L898.6,1839.1 L899.5,1843.1 M958.8,1754.2 L957.1,1762.5 L958.8,1767.6 L965.5,1770.9 L968.0,1774.2 L969.7,1781.8 L975.5,1785.9 L978.0,1788.4 L977.2,1792.6 L981.4,1797.6 L983.0,1801.0 L982.2,1808.5 L979.7,1813.5 L978.9,1817.7 L980.5,1820.2 M1320.5,1745.6 L1314.5,1751.6 L1308.5,1754.0 L1302.5,1757.6 L1298.9,1752.8 L1290.5,1749.2 L1280.9,1744.4 L1282.1,1754.0 L1279.7,1757.5 L1274.7,1759.2 L1271.3,1763.3 L1268.0,1760.8 L1263.0,1761.7 L1258.0,1764.2 L1255.5,1769.2 L1251.3,1770.9 L1245.4,1770.0 L1239.6,1770.0 L1235.4,1773.4 L1233.7,1779.2 L1230.4,1782.6 L1224.5,1784.2 L1222.9,1787.6 L1219.5,1789.3 L1213.7,1785.9 L1207.8,1781.7 L1201.1,1781.7 L1195.3,1782.6 L1191.1,1785.1 L1184.4,1782.9 L1180.2,1784.2 L1176.9,1788.4 L1181.9,1793.4 L1185.3,1796.8 L1183.6,1800.1 L1186.9,1803.5 L1189.4,1806.8 L1191.1,1812.7 L1191.9,1816.8 L1186.9,1820.2 L1186.1,1821.8 L1192.8,1824.4" fill="none" stroke="#a6a6a6" stroke-width="2.6" stroke-linejoin="round" stroke-linecap="round"/>
<g><circle cx="839.3" cy="1493.2" r="12.4" fill="#0000ff"/><circle cx="863.2" cy="1503.7" r="12.4" fill="#0000ff"/><circle cx="887.2" cy="1527.2" r="12.4" fill="#0000ff"/><circle cx="866.6" cy="1532.9" r="12.4" fill="#0000ff"/><circle cx="864.2" cy="1589.9" r="12.4" fill="#006400"/><circle cx="775.1" cy="1610.1" r="12.4" fill="#006400"/><circle cx="820.6" cy="1611.0" r="12.4" fill="#006400"/><circle cx="808.6" cy="1635.9" r="12.4" fill="#006400"/><circle cx="859.4" cy="1646.0" r="12.4" fill="#ff8c00"/><circle cx="902.5" cy="1679.0" r="12.4" fill="#006400"/><circle cx="862.3" cy="1692.9" r="12.4" fill="#ff0000"/><circle cx="1049.1" cy="1672.8" r="12.4" fill="#ff8c00"/><circle cx="1123.3" cy="1715.0" r="12.4" fill="#00ffff"/><circle cx="999.3" cy="1801.2" r="12.4" fill="#006400"/><circle cx="861.3" cy="1829.9" r="12.4" fill="#00ffff"/></g>
<g>
<text x="78.1" y="1910.3" font-size="28.0" text-anchor="start" textLength="75" lengthAdjust="spacing">Cattle</text>
<g stroke="#dedede"><line x1="79.8" x2="544.3" y1="2014.2" y2="2014.2" stroke-width="0.7"/><line x1="79.8" x2="544.3" y1="2120.4" y2="2120.4" stroke-width="0.7"/><line x1="79.8" x2="544.3" y1="2226.7" y2="2226.7" stroke-width="0.7"/><line x1="79.8" x2="544.3" y1="1961.1" y2="1961.1" stroke-width="1.3"/><line x1="79.8" x2="544.3" y1="2067.3" y2="2067.3" stroke-width="1.3"/><line x1="79.8" x2="544.3" y1="2173.6" y2="2173.6" stroke-width="1.3"/><line x1="79.8" x2="544.3" y1="2279.8" y2="2279.8" stroke-width="1.3"/><line x1="106.4" x2="106.4" y1="1930.1" y2="2280.4" stroke-width="1.3"/><line x1="152.0" x2="152.0" y1="1930.1" y2="2280.4" stroke-width="1.3"/><line x1="197.6" x2="197.6" y1="1930.1" y2="2280.4" stroke-width="1.3"/><line x1="243.3" x2="243.3" y1="1930.1" y2="2280.4" stroke-width="1.3"/><line x1="288.9" x2="288.9" y1="1930.1" y2="2280.4" stroke-width="1.3"/><line x1="334.5" x2="334.5" y1="1930.1" y2="2280.4" stroke-width="1.3"/><line x1="380.1" x2="380.1" y1="1930.1" y2="2280.4" stroke-width="1.3"/><line x1="425.7" x2="425.7" y1="1930.1" y2="2280.4" stroke-width="1.3"/><line x1="471.4" x2="471.4" y1="1930.1" y2="2280.4" stroke-width="1.3"/><line x1="517.0" x2="517.0" y1="1930.1" y2="2280.4" stroke-width="1.3"/></g>
<polyline points="106.4,2105.5 152.0,2090.1 197.6,2151.0 243.3,2238.8 288.9,2172.1 334.5,1982.8 380.1,1993.6 425.7,1998.0 471.4,1987.3 517.0,1946.0" fill="none" stroke="#008b8b" stroke-width="9.7" stroke-linejoin="round" stroke-linecap="butt"/>
<polyline points="106.4,2103.8 152.0,2049.6 197.6,2059.7 243.3,2004.5 288.9,1994.3 334.5,1967.3 380.1,1987.0 425.7,2003.5 471.4,2231.5 517.0,2266.5" fill="none" stroke="#008b8b" stroke-width="9.7" stroke-linejoin="round" stroke-linecap="butt" stroke-dasharray="18.8 18.5" stroke-dashoffset="0.0"/>
<line x1="425.7" x2="425.7" y1="2280.4" y2="1930.1" stroke="#ff0000" stroke-width="2.4" stroke-dasharray="9.85 9.85"/>
<line x1="517.0" x2="517.0" y1="2280.4" y2="1930.1" stroke="#ff0000" stroke-width="2.4"/>
<rect x="79.8" y="1930.1" width="464.5" height="351.0" fill="none" stroke="#b3b3b3" stroke-width="1.8"/>
<g stroke="#b3b3b3" stroke-width="1.3"><line x1="106.4" x2="106.4" y1="2280.4" y2="2286.8"/><line x1="152.0" x2="152.0" y1="2280.4" y2="2286.8"/><line x1="197.6" x2="197.6" y1="2280.4" y2="2286.8"/><line x1="243.3" x2="243.3" y1="2280.4" y2="2286.8"/><line x1="288.9" x2="288.9" y1="2280.4" y2="2286.8"/><line x1="334.5" x2="334.5" y1="2280.4" y2="2286.8"/><line x1="380.1" x2="380.1" y1="2280.4" y2="2286.8"/><line x1="425.7" x2="425.7" y1="2280.4" y2="2286.8"/><line x1="471.4" x2="471.4" y1="2280.4" y2="2286.8"/><line x1="517.0" x2="517.0" y1="2280.4" y2="2286.8"/><line x1="73.4" x2="79.8" y1="1961.1" y2="1961.1"/><line x1="73.4" x2="79.8" y1="2067.3" y2="2067.3"/><line x1="73.4" x2="79.8" y1="2173.6" y2="2173.6"/><line x1="73.4" x2="79.8" y1="2279.8" y2="2279.8"/></g>
<text x="106.4" y="2306.0" font-size="19.6" text-anchor="middle">MAR</text>
<text x="152.0" y="2306.0" font-size="19.6" text-anchor="middle">APR</text>
<text x="197.6" y="2306.0" font-size="19.6" text-anchor="middle">MAY</text>
<text x="243.3" y="2306.0" font-size="19.6" text-anchor="middle">JUN</text>
<text x="288.9" y="2306.0" font-size="19.6" text-anchor="middle">JUL</text>
<text x="334.5" y="2306.0" font-size="19.6" text-anchor="middle">AUG</text>
<text x="380.1" y="2306.0" font-size="19.6" text-anchor="middle">SEP</text>
<text x="425.7" y="2306.0" font-size="19.6" text-anchor="middle">OCT</text>
<text x="471.4" y="2306.0" font-size="19.6" text-anchor="middle">NOV</text>
<text x="517.0" y="2306.0" font-size="19.6" text-anchor="middle">DEC</text>
<text x="68.8" y="1968.1" font-size="19.6" text-anchor="end">2.5</text>
<text x="68.8" y="2074.3" font-size="19.6" text-anchor="end">0.0</text>
<text x="68.8" y="2180.6" font-size="19.6" text-anchor="end">−2.5</text>
<text x="68.8" y="2286.8" font-size="19.6" text-anchor="end">−5.0</text>
<text x="312.0" y="2333.6" font-size="24.5" text-anchor="middle">MONTH</text>
<text x="19.5" y="2105.2" font-size="24.5" text-anchor="middle" transform="rotate(-90 19.5 2105.2)">Dim1</text>
<text x="579.8" y="2069.9" font-size="24.6" text-anchor="start">YEAR</text>
<line x1="583.8" x2="614.2" y1="2103.6" y2="2103.6" stroke="#008b8b" stroke-width="9.6"/>
<line x1="583.8" x2="603.0" y1="2141.6" y2="2141.6" stroke="#008b8b" stroke-width="9.6"/>
<text x="629.6" y="2111.0" font-size="19.6" text-anchor="start">2014</text>
<text x="629.6" y="2148.0" font-size="19.6" text-anchor="start">2019</text>
</g><g>
<text x="787.3" y="1910.3" font-size="28.0" text-anchor="start" textLength="205" lengthAdjust="spacing">Small ruminants</text>
<g stroke="#dedede"><line x1="788.1" x2="1252.2" y1="1977.2" y2="1977.2" stroke-width="0.7"/><line x1="788.1" x2="1252.2" y1="2062.4" y2="2062.4" stroke-width="0.7"/><line x1="788.1" x2="1252.2" y1="2147.6" y2="2147.6" stroke-width="0.7"/><line x1="788.1" x2="1252.2" y1="2232.8" y2="2232.8" stroke-width="0.7"/><line x1="788.1" x2="1252.2" y1="1934.6" y2="1934.6" stroke-width="1.3"/><line x1="788.1" x2="1252.2" y1="2019.8" y2="2019.8" stroke-width="1.3"/><line x1="788.1" x2="1252.2" y1="2105.0" y2="2105.0" stroke-width="1.3"/><line x1="788.1" x2="1252.2" y1="2190.2" y2="2190.2" stroke-width="1.3"/><line x1="788.1" x2="1252.2" y1="2275.4" y2="2275.4" stroke-width="1.3"/><line x1="815.1" x2="815.1" y1="1930.0" y2="2280.5" stroke-width="1.3"/><line x1="860.7" x2="860.7" y1="1930.0" y2="2280.5" stroke-width="1.3"/><line x1="906.3" x2="906.3" y1="1930.0" y2="2280.5" stroke-width="1.3"/><line x1="951.9" x2="951.9" y1="1930.0" y2="2280.5" stroke-width="1.3"/><line x1="997.5" x2="997.5" y1="1930.0" y2="2280.5" stroke-width="1.3"/><line x1="1043.1" x2="1043.1" y1="1930.0" y2="2280.5" stroke-width="1.3"/><line x1="1088.7" x2="1088.7" y1="1930.0" y2="2280.5" stroke-width="1.3"/><line x1="1134.3" x2="1134.3" y1="1930.0" y2="2280.5" stroke-width="1.3"/><line x1="1179.9" x2="1179.9" y1="1930.0" y2="2280.5" stroke-width="1.3"/><line x1="1225.5" x2="1225.5" y1="1930.0" y2="2280.5" stroke-width="1.3"/></g>
<polyline points="815.1,2145.4 860.7,2172.4 906.3,2195.8 951.9,2201.9 997.5,2162.6 1043.1,2032.6 1088.7,1995.7 1134.3,1986.4 1179.9,2076.4 1225.5,2081.3" fill="none" stroke="#ff8c00" stroke-width="9.7" stroke-linejoin="round" stroke-linecap="butt"/>
<polyline points="815.1,2103.5 860.7,2123.2 906.3,2110.3 951.9,2102.5 997.5,2031.1 1043.1,1941.7" fill="none" stroke="#ff8c00" stroke-width="9.7" stroke-linejoin="round" stroke-linecap="butt" stroke-dasharray="18.7 18.5" stroke-dashoffset="0.0"/>
<polyline points="1043.1,1941.7 1088.7,2065.8 1134.3,2069.5 1179.9,2263.4 1225.5,2234.7" fill="none" stroke="#ff8c00" stroke-width="9.7" stroke-linejoin="round" stroke-linecap="butt" stroke-dasharray="18.7 18.5" stroke-dashoffset="25.2"/>
<line x1="1043.1" x2="1043.1" y1="2280.5" y2="1930.0" stroke="#ff0000" stroke-width="2.4" stroke-dasharray="9.85 9.85"/>
<line x1="1134.3" x2="1134.3" y1="2280.5" y2="1930.0" stroke="#ff0000" stroke-width="2.4"/>
<rect x="788.1" y="1930.0" width="464.1" height="351.2" fill="none" stroke="#b3b3b3" stroke-width="1.8"/>
<g stroke="#b3b3b3" stroke-width="1.3"><line x1="815.1" x2="815.1" y1="2280.5" y2="2286.9"/><line x1="860.7" x2="860.7" y1="2280.5" y2="2286.9"/><line x1="906.3" x2="906.3" y1="2280.5" y2="2286.9"/><line x1="951.9" x2="951.9" y1="2280.5" y2="2286.9"/><line x1="997.5" x2="997.5" y1="2280.5" y2="2286.9"/><line x1="1043.1" x2="1043.1" y1="2280.5" y2="2286.9"/><line x1="1088.7" x2="1088.7" y1="2280.5" y2="2286.9"/><line x1="1134.3" x2="1134.3" y1="2280.5" y2="2286.9"/><line x1="1179.9" x2="1179.9" y1="2280.5" y2="2286.9"/><line x1="1225.5" x2="1225.5" y1="2280.5" y2="2286.9"/><line x1="781.7" x2="788.1" y1="1934.6" y2="1934.6"/><line x1="781.7" x2="788.1" y1="2019.8" y2="2019.8"/><line x1="781.7" x2="788.1" y1="2105.0" y2="2105.0"/><line x1="781.7" x2="788.1" y1="2190.2" y2="2190.2"/><line x1="781.7" x2="788.1" y1="2275.4" y2="2275.4"/></g>
<text x="815.1" y="2306.0" font-size="19.6" text-anchor="middle">MAR</text>
<text x="860.7" y="2306.0" font-size="19.6" text-anchor="middle">APR</text>
<text x="906.3" y="2306.0" font-size="19.6" text-anchor="middle">MAY</text>
<text x="951.9" y="2306.0" font-size="19.6" text-anchor="middle">JUN</text>
<text x="997.5" y="2306.0" font-size="19.6" text-anchor="middle">JUL</text>
<text x="1043.1" y="2306.0" font-size="19.6" text-anchor="middle">AUG</text>
<text x="1088.7" y="2306.0" font-size="19.6" text-anchor="middle">SEP</text>
<text x="1134.3" y="2306.0" font-size="19.6" text-anchor="middle">OCT</text>
<text x="1179.9" y="2306.0" font-size="19.6" text-anchor="middle">NOV</text>
<text x="1225.5" y="2306.0" font-size="19.6" text-anchor="middle">DEC</text>
<text x="777.1" y="1941.6" font-size="19.6" text-anchor="end">5.0</text>
<text x="777.1" y="2026.8" font-size="19.6" text-anchor="end">2.5</text>
<text x="777.1" y="2112.0" font-size="19.6" text-anchor="end">0.0</text>
<text x="777.1" y="2197.2" font-size="19.6" text-anchor="end">−2.5</text>
<text x="777.1" y="2282.4" font-size="19.6" text-anchor="end">−5.0</text>
<text x="1020.2" y="2333.6" font-size="24.5" text-anchor="middle">MONTH</text>
<text x="727.2" y="2105.2" font-size="24.5" text-anchor="middle" transform="rotate(-90 727.2 2105.2)">Dim1</text>
<text x="1288.4" y="2069.9" font-size="24.6" text-anchor="start">YEAR</text>
<line x1="1292.4" x2="1322.8" y1="2103.6" y2="2103.6" stroke="#ff8c00" stroke-width="9.6"/>
<line x1="1292.4" x2="1311.6" y1="2141.6" y2="2141.6" stroke="#ff8c00" stroke-width="9.6"/>
<text x="1338.2" y="2111.0" font-size="19.6" text-anchor="start">2014</text>
<text x="1338.2" y="2148.0" font-size="19.6" text-anchor="start">2019</text>
</g>
</svg></body></html>
